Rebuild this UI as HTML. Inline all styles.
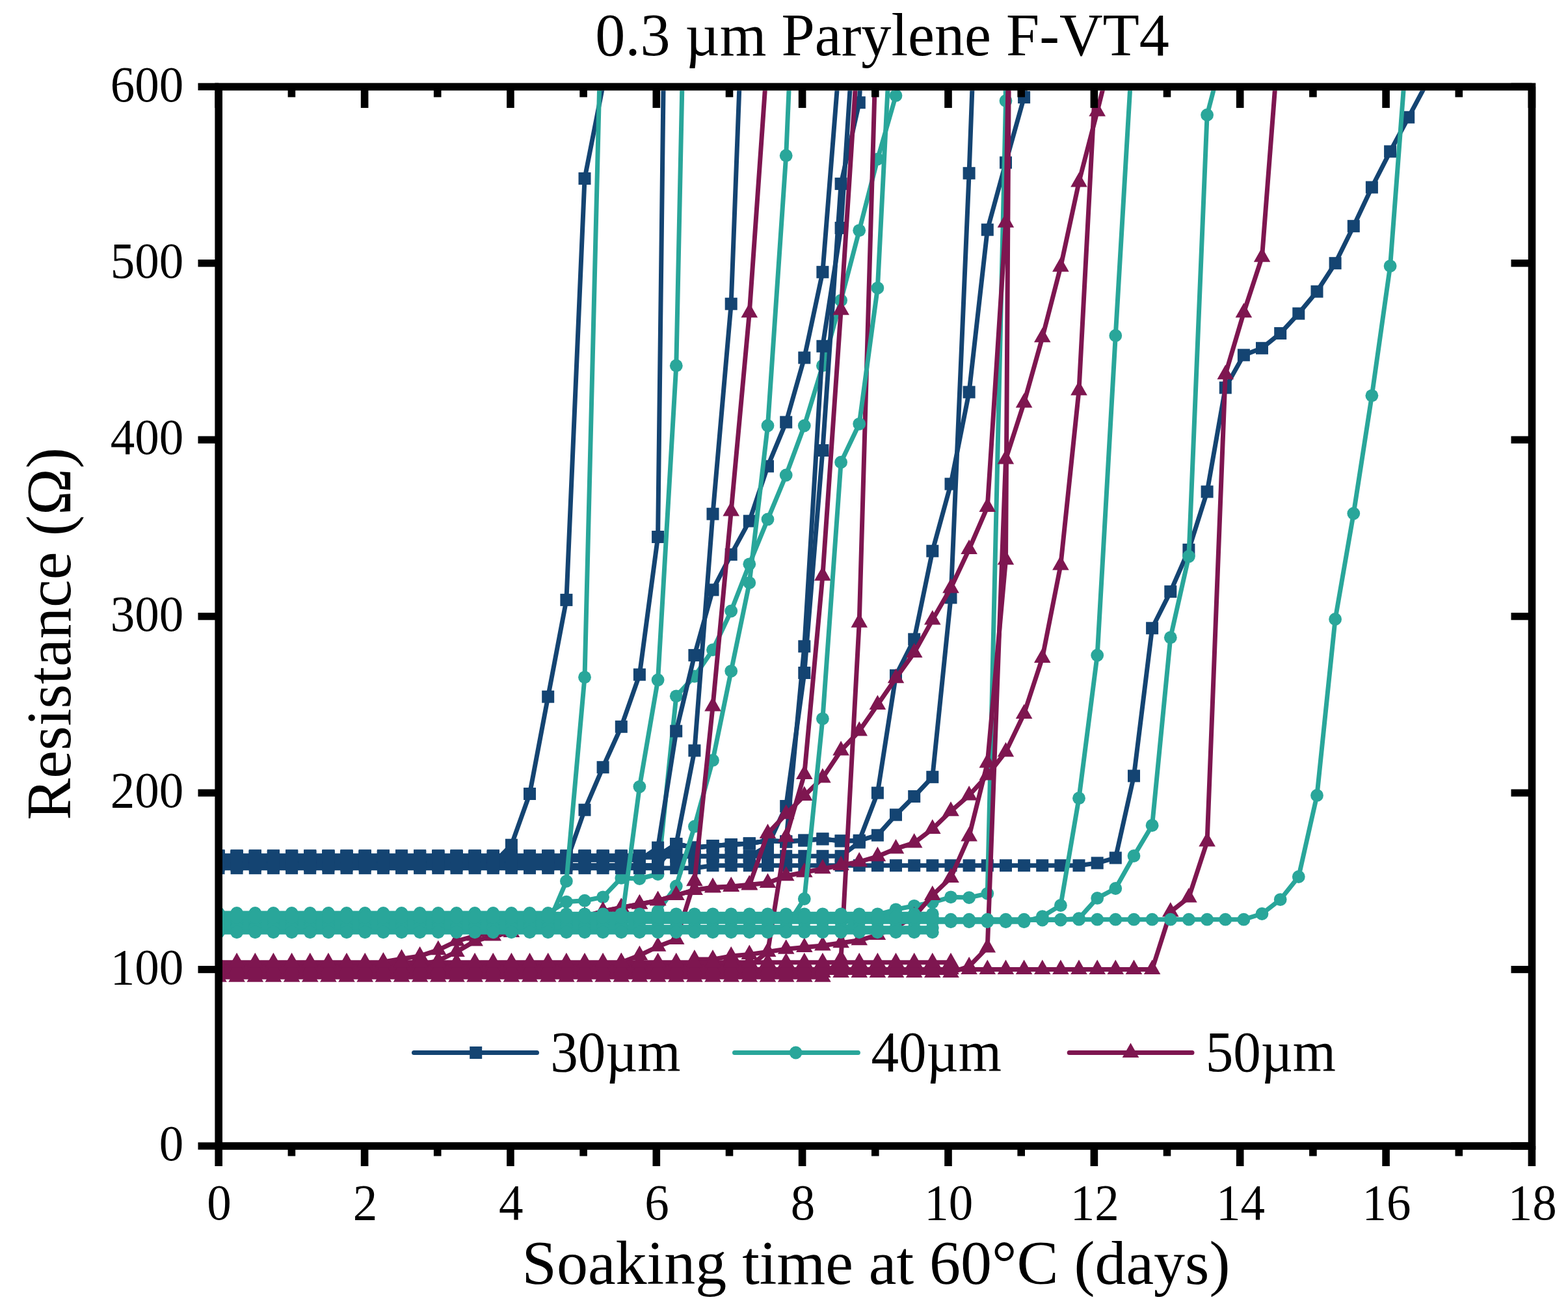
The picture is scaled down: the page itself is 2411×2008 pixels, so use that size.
<!DOCTYPE html>
<html><head><meta charset="utf-8"><title>0.3 µm Parylene F-VT4</title>
<style>
html,body{margin:0;padding:0;background:#fff;}
body{width:2411px;height:2008px;overflow:hidden;}
svg{display:block;}
text{font-family:"Liberation Serif","Times New Roman",serif;fill:#000;}
.tick text{font-size:78.8px;}
.leg{font-size:88.3px;}
</style></head><body>
<svg width="2411" height="2008" viewBox="0 0 2411 2008">
<defs><clipPath id="pc"><rect x="342" y="139.2" width="2007.7" height="1617"/></clipPath></defs>
<rect width="2411" height="2008" fill="#fff"/>
<g clip-path="url(#pc)">
<g fill="#29a69a" stroke="none">
<path d="M336 1404 L364.1 1404 L392.3 1404 L420.4 1404 L448.6 1404 L476.8 1404 L504.9 1404 L533 1404 L561.2 1404 L589.4 1404 L617.5 1404 L645.6 1404 L673.8 1404 L702 1404 L730.1 1404 L758.2 1404 L786.4 1404 L814.5 1404 L842.7 1404 L870.9 1386.6 L899 1384.7 L927.1 1379.3 L955.3 1349.9 L983.4 1351 L1011.6 1344 L1039.8 1070.3 L1067.9 1039.9 L1096 999.2 L1124.2 939.5 L1152.3 867.3 L1180.5 798.4 L1208.7 730.5 L1236.8 654.5 L1264.9 562.2 L1293.1 461.8 L1321.2 354.3 L1349.4 244.6 L1377.5 146.9 L1411 0" fill="none" stroke="#29a69a" stroke-width="7.0" stroke-linejoin="round" stroke-linecap="butt"/>
<circle cx="336" cy="1404" r="9.9"/><circle cx="364.1" cy="1404" r="9.9"/><circle cx="392.3" cy="1404" r="9.9"/><circle cx="420.4" cy="1404" r="9.9"/><circle cx="448.6" cy="1404" r="9.9"/><circle cx="476.8" cy="1404" r="9.9"/><circle cx="504.9" cy="1404" r="9.9"/><circle cx="533" cy="1404" r="9.9"/><circle cx="561.2" cy="1404" r="9.9"/><circle cx="589.4" cy="1404" r="9.9"/><circle cx="617.5" cy="1404" r="9.9"/><circle cx="645.6" cy="1404" r="9.9"/><circle cx="673.8" cy="1404" r="9.9"/><circle cx="702" cy="1404" r="9.9"/><circle cx="730.1" cy="1404" r="9.9"/><circle cx="758.2" cy="1404" r="9.9"/><circle cx="786.4" cy="1404" r="9.9"/><circle cx="814.5" cy="1404" r="9.9"/><circle cx="842.7" cy="1404" r="9.9"/><circle cx="870.9" cy="1386.6" r="9.9"/><circle cx="899" cy="1384.7" r="9.9"/><circle cx="927.1" cy="1379.3" r="9.9"/><circle cx="955.3" cy="1349.9" r="9.9"/><circle cx="983.4" cy="1351" r="9.9"/><circle cx="1011.6" cy="1344" r="9.9"/><circle cx="1039.8" cy="1070.3" r="9.9"/><circle cx="1067.9" cy="1039.9" r="9.9"/><circle cx="1096" cy="999.2" r="9.9"/><circle cx="1124.2" cy="939.5" r="9.9"/><circle cx="1152.3" cy="867.3" r="9.9"/><circle cx="1180.5" cy="798.4" r="9.9"/><circle cx="1208.7" cy="730.5" r="9.9"/><circle cx="1236.8" cy="654.5" r="9.9"/><circle cx="1264.9" cy="562.2" r="9.9"/><circle cx="1293.1" cy="461.8" r="9.9"/><circle cx="1321.2" cy="354.3" r="9.9"/><circle cx="1349.4" cy="244.6" r="9.9"/><circle cx="1377.5" cy="146.9" r="9.9"/>
</g><g fill="#144472" stroke="none">
<path d="M336 1327.7 L364.1 1327.7 L392.3 1327.7 L420.4 1327.7 L448.6 1327.7 L476.8 1327.7 L504.9 1327.7 L533 1327.7 L561.2 1327.7 L589.4 1327.7 L617.5 1327.7 L645.6 1327.7 L673.8 1327.7 L702 1327.7 L730.1 1327.7 L758.2 1327.7 L786.4 1299.2 L814.5 1220.5 L842.7 1071.2 L870.9 922.4 L899 274.5 L953 0" fill="none" stroke="#144472" stroke-width="7.0" stroke-linejoin="round" stroke-linecap="butt"/>
<rect x="326.5" y="1318.2" width="19" height="19"/><rect x="354.6" y="1318.2" width="19" height="19"/><rect x="382.8" y="1318.2" width="19" height="19"/><rect x="410.9" y="1318.2" width="19" height="19"/><rect x="439.1" y="1318.2" width="19" height="19"/><rect x="467.2" y="1318.2" width="19" height="19"/><rect x="495.4" y="1318.2" width="19" height="19"/><rect x="523.5" y="1318.2" width="19" height="19"/><rect x="551.7" y="1318.2" width="19" height="19"/><rect x="579.9" y="1318.2" width="19" height="19"/><rect x="608" y="1318.2" width="19" height="19"/><rect x="636.1" y="1318.2" width="19" height="19"/><rect x="664.3" y="1318.2" width="19" height="19"/><rect x="692.5" y="1318.2" width="19" height="19"/><rect x="720.6" y="1318.2" width="19" height="19"/><rect x="748.8" y="1318.2" width="19" height="19"/><rect x="776.9" y="1289.7" width="19" height="19"/><rect x="805" y="1211" width="19" height="19"/><rect x="833.2" y="1061.7" width="19" height="19"/><rect x="861.4" y="912.9" width="19" height="19"/><rect x="889.5" y="265" width="19" height="19"/>
</g>
<g fill="#144472" stroke="none">
<path d="M336 1325 L364.1 1325 L392.3 1325 L420.4 1325 L448.6 1325 L476.8 1325 L504.9 1325 L533 1325 L561.2 1325 L589.4 1325 L617.5 1325 L645.6 1325 L673.8 1325 L702 1325 L730.1 1325 L758.2 1325 L786.4 1325 L814.5 1325 L842.7 1325 L870.9 1325 L899 1245.2 L927.1 1179.7 L955.3 1117.3 L983.4 1037.2 L1011.6 825.5 L1021.7 0" fill="none" stroke="#144472" stroke-width="7.0" stroke-linejoin="round" stroke-linecap="butt"/>
<rect x="326.5" y="1315.5" width="19" height="19"/><rect x="354.6" y="1315.5" width="19" height="19"/><rect x="382.8" y="1315.5" width="19" height="19"/><rect x="410.9" y="1315.5" width="19" height="19"/><rect x="439.1" y="1315.5" width="19" height="19"/><rect x="467.2" y="1315.5" width="19" height="19"/><rect x="495.4" y="1315.5" width="19" height="19"/><rect x="523.5" y="1315.5" width="19" height="19"/><rect x="551.7" y="1315.5" width="19" height="19"/><rect x="579.9" y="1315.5" width="19" height="19"/><rect x="608" y="1315.5" width="19" height="19"/><rect x="636.1" y="1315.5" width="19" height="19"/><rect x="664.3" y="1315.5" width="19" height="19"/><rect x="692.5" y="1315.5" width="19" height="19"/><rect x="720.6" y="1315.5" width="19" height="19"/><rect x="748.8" y="1315.5" width="19" height="19"/><rect x="776.9" y="1315.5" width="19" height="19"/><rect x="805" y="1315.5" width="19" height="19"/><rect x="833.2" y="1315.5" width="19" height="19"/><rect x="861.4" y="1315.5" width="19" height="19"/><rect x="889.5" y="1235.7" width="19" height="19"/><rect x="917.6" y="1170.2" width="19" height="19"/><rect x="945.8" y="1107.8" width="19" height="19"/><rect x="973.9" y="1027.7" width="19" height="19"/><rect x="1002.1" y="816" width="19" height="19"/>
</g>
<g fill="#144472" stroke="none">
<path d="M336 1322.3 L364.1 1322.3 L392.3 1322.3 L420.4 1322.3 L448.6 1322.3 L476.8 1322.3 L504.9 1322.3 L533 1322.3 L561.2 1322.3 L589.4 1322.3 L617.5 1322.3 L645.6 1322.3 L673.8 1322.3 L702 1322.3 L730.1 1322.3 L758.2 1322.3 L786.4 1322.3 L814.5 1322.3 L842.7 1322.3 L870.9 1322.3 L899 1322.3 L927.1 1322.3 L955.3 1322.3 L983.4 1322.3 L1011.6 1303.2 L1039.8 1124.1 L1067.9 1007.4 L1096 906.9 L1124.2 852.6 L1152.3 801.1 L1180.5 716.9 L1208.7 649.1 L1236.8 550 L1264.9 418.3 L1298 0" fill="none" stroke="#144472" stroke-width="7.0" stroke-linejoin="round" stroke-linecap="butt"/>
<rect x="326.5" y="1312.8" width="19" height="19"/><rect x="354.6" y="1312.8" width="19" height="19"/><rect x="382.8" y="1312.8" width="19" height="19"/><rect x="410.9" y="1312.8" width="19" height="19"/><rect x="439.1" y="1312.8" width="19" height="19"/><rect x="467.2" y="1312.8" width="19" height="19"/><rect x="495.4" y="1312.8" width="19" height="19"/><rect x="523.5" y="1312.8" width="19" height="19"/><rect x="551.7" y="1312.8" width="19" height="19"/><rect x="579.9" y="1312.8" width="19" height="19"/><rect x="608" y="1312.8" width="19" height="19"/><rect x="636.1" y="1312.8" width="19" height="19"/><rect x="664.3" y="1312.8" width="19" height="19"/><rect x="692.5" y="1312.8" width="19" height="19"/><rect x="720.6" y="1312.8" width="19" height="19"/><rect x="748.8" y="1312.8" width="19" height="19"/><rect x="776.9" y="1312.8" width="19" height="19"/><rect x="805" y="1312.8" width="19" height="19"/><rect x="833.2" y="1312.8" width="19" height="19"/><rect x="861.4" y="1312.8" width="19" height="19"/><rect x="889.5" y="1312.8" width="19" height="19"/><rect x="917.6" y="1312.8" width="19" height="19"/><rect x="945.8" y="1312.8" width="19" height="19"/><rect x="973.9" y="1312.8" width="19" height="19"/><rect x="1002.1" y="1293.7" width="19" height="19"/><rect x="1030.2" y="1114.6" width="19" height="19"/><rect x="1058.4" y="997.9" width="19" height="19"/><rect x="1086.5" y="897.4" width="19" height="19"/><rect x="1114.7" y="843.1" width="19" height="19"/><rect x="1142.8" y="791.6" width="19" height="19"/><rect x="1171" y="707.4" width="19" height="19"/><rect x="1199.2" y="639.6" width="19" height="19"/><rect x="1227.3" y="540.5" width="19" height="19"/><rect x="1255.4" y="408.8" width="19" height="19"/>
</g>
<g fill="#144472" stroke="none">
<path d="M336 1330.4 L364.1 1330.4 L392.3 1330.4 L420.4 1330.4 L448.6 1330.4 L476.8 1330.4 L504.9 1330.4 L533 1330.4 L561.2 1330.4 L589.4 1330.4 L617.5 1330.4 L645.6 1330.4 L673.8 1330.4 L702 1330.4 L730.1 1330.4 L758.2 1330.4 L786.4 1330.4 L814.5 1330.4 L842.7 1330.4 L870.9 1330.4 L899 1330.4 L927.1 1330.4 L955.3 1330.4 L983.4 1330.4 L1011.6 1330.4 L1039.8 1297.8 L1067.9 1154 L1096 790.2 L1124.2 467.2 L1142 0" fill="none" stroke="#144472" stroke-width="7.0" stroke-linejoin="round" stroke-linecap="butt"/>
<rect x="326.5" y="1320.9" width="19" height="19"/><rect x="354.6" y="1320.9" width="19" height="19"/><rect x="382.8" y="1320.9" width="19" height="19"/><rect x="410.9" y="1320.9" width="19" height="19"/><rect x="439.1" y="1320.9" width="19" height="19"/><rect x="467.2" y="1320.9" width="19" height="19"/><rect x="495.4" y="1320.9" width="19" height="19"/><rect x="523.5" y="1320.9" width="19" height="19"/><rect x="551.7" y="1320.9" width="19" height="19"/><rect x="579.9" y="1320.9" width="19" height="19"/><rect x="608" y="1320.9" width="19" height="19"/><rect x="636.1" y="1320.9" width="19" height="19"/><rect x="664.3" y="1320.9" width="19" height="19"/><rect x="692.5" y="1320.9" width="19" height="19"/><rect x="720.6" y="1320.9" width="19" height="19"/><rect x="748.8" y="1320.9" width="19" height="19"/><rect x="776.9" y="1320.9" width="19" height="19"/><rect x="805" y="1320.9" width="19" height="19"/><rect x="833.2" y="1320.9" width="19" height="19"/><rect x="861.4" y="1320.9" width="19" height="19"/><rect x="889.5" y="1320.9" width="19" height="19"/><rect x="917.6" y="1320.9" width="19" height="19"/><rect x="945.8" y="1320.9" width="19" height="19"/><rect x="973.9" y="1320.9" width="19" height="19"/><rect x="1002.1" y="1320.9" width="19" height="19"/><rect x="1030.2" y="1288.3" width="19" height="19"/><rect x="1058.4" y="1144.5" width="19" height="19"/><rect x="1086.5" y="780.7" width="19" height="19"/><rect x="1114.7" y="457.7" width="19" height="19"/>
</g>
<g fill="#144472" stroke="none">
<path d="M336 1316.8 L364.1 1316.8 L392.3 1316.8 L420.4 1316.8 L448.6 1316.8 L476.8 1316.8 L504.9 1316.8 L533 1316.8 L561.2 1316.8 L589.4 1316.8 L617.5 1316.8 L645.6 1316.8 L673.8 1316.8 L702 1316.8 L730.1 1316.8 L758.2 1316.8 L786.4 1316.8 L814.5 1316.8 L842.7 1316.8 L870.9 1316.8 L899 1316.8 L927.1 1316.8 L955.3 1316.8 L983.4 1316.8 L1011.6 1316.8 L1039.8 1316.8 L1067.9 1316.8 L1096 1316.8 L1124.2 1316.8 L1152.3 1316.8 L1180.5 1300.5 L1208.7 1239.5 L1236.8 1034.5 L1264.9 692.5 L1293.1 282.6 L1321.2 157.7 L1330 0" fill="none" stroke="#144472" stroke-width="7.0" stroke-linejoin="round" stroke-linecap="butt"/>
<rect x="326.5" y="1307.3" width="19" height="19"/><rect x="354.6" y="1307.3" width="19" height="19"/><rect x="382.8" y="1307.3" width="19" height="19"/><rect x="410.9" y="1307.3" width="19" height="19"/><rect x="439.1" y="1307.3" width="19" height="19"/><rect x="467.2" y="1307.3" width="19" height="19"/><rect x="495.4" y="1307.3" width="19" height="19"/><rect x="523.5" y="1307.3" width="19" height="19"/><rect x="551.7" y="1307.3" width="19" height="19"/><rect x="579.9" y="1307.3" width="19" height="19"/><rect x="608" y="1307.3" width="19" height="19"/><rect x="636.1" y="1307.3" width="19" height="19"/><rect x="664.3" y="1307.3" width="19" height="19"/><rect x="692.5" y="1307.3" width="19" height="19"/><rect x="720.6" y="1307.3" width="19" height="19"/><rect x="748.8" y="1307.3" width="19" height="19"/><rect x="776.9" y="1307.3" width="19" height="19"/><rect x="805" y="1307.3" width="19" height="19"/><rect x="833.2" y="1307.3" width="19" height="19"/><rect x="861.4" y="1307.3" width="19" height="19"/><rect x="889.5" y="1307.3" width="19" height="19"/><rect x="917.6" y="1307.3" width="19" height="19"/><rect x="945.8" y="1307.3" width="19" height="19"/><rect x="973.9" y="1307.3" width="19" height="19"/><rect x="1002.1" y="1307.3" width="19" height="19"/><rect x="1030.2" y="1307.3" width="19" height="19"/><rect x="1058.4" y="1307.3" width="19" height="19"/><rect x="1086.5" y="1307.3" width="19" height="19"/><rect x="1114.7" y="1307.3" width="19" height="19"/><rect x="1142.8" y="1307.3" width="19" height="19"/><rect x="1171" y="1291" width="19" height="19"/><rect x="1199.2" y="1230" width="19" height="19"/><rect x="1227.3" y="1025" width="19" height="19"/><rect x="1255.4" y="683" width="19" height="19"/><rect x="1283.6" y="273.1" width="19" height="19"/><rect x="1311.8" y="148.2" width="19" height="19"/>
</g>
<g fill="#144472" stroke="none">
<path d="M336 1316.3 L364.1 1316.3 L392.3 1316.3 L420.4 1316.3 L448.6 1316.3 L476.8 1316.3 L504.9 1316.3 L533 1316.3 L561.2 1316.3 L589.4 1316.3 L617.5 1316.3 L645.6 1316.3 L673.8 1316.3 L702 1316.3 L730.1 1316.3 L758.2 1316.3 L786.4 1316.3 L814.5 1316.3 L842.7 1316.3 L870.9 1316.3 L899 1316.3 L927.1 1316.3 L955.3 1316.3 L983.4 1316.3 L1011.6 1316.3 L1039.8 1297.8 L1067.9 1303.2 L1096 1300.5 L1124.2 1298.6 L1152.3 1297 L1180.5 1292.4 L1208.7 1294 L1236.8 993.8 L1264.9 532.3 L1293.1 350.5 L1316 0" fill="none" stroke="#144472" stroke-width="7.0" stroke-linejoin="round" stroke-linecap="butt"/>
<rect x="326.5" y="1306.8" width="19" height="19"/><rect x="354.6" y="1306.8" width="19" height="19"/><rect x="382.8" y="1306.8" width="19" height="19"/><rect x="410.9" y="1306.8" width="19" height="19"/><rect x="439.1" y="1306.8" width="19" height="19"/><rect x="467.2" y="1306.8" width="19" height="19"/><rect x="495.4" y="1306.8" width="19" height="19"/><rect x="523.5" y="1306.8" width="19" height="19"/><rect x="551.7" y="1306.8" width="19" height="19"/><rect x="579.9" y="1306.8" width="19" height="19"/><rect x="608" y="1306.8" width="19" height="19"/><rect x="636.1" y="1306.8" width="19" height="19"/><rect x="664.3" y="1306.8" width="19" height="19"/><rect x="692.5" y="1306.8" width="19" height="19"/><rect x="720.6" y="1306.8" width="19" height="19"/><rect x="748.8" y="1306.8" width="19" height="19"/><rect x="776.9" y="1306.8" width="19" height="19"/><rect x="805" y="1306.8" width="19" height="19"/><rect x="833.2" y="1306.8" width="19" height="19"/><rect x="861.4" y="1306.8" width="19" height="19"/><rect x="889.5" y="1306.8" width="19" height="19"/><rect x="917.6" y="1306.8" width="19" height="19"/><rect x="945.8" y="1306.8" width="19" height="19"/><rect x="973.9" y="1306.8" width="19" height="19"/><rect x="1002.1" y="1306.8" width="19" height="19"/><rect x="1030.2" y="1288.3" width="19" height="19"/><rect x="1058.4" y="1293.7" width="19" height="19"/><rect x="1086.5" y="1291" width="19" height="19"/><rect x="1114.7" y="1289.1" width="19" height="19"/><rect x="1142.8" y="1287.5" width="19" height="19"/><rect x="1171" y="1282.9" width="19" height="19"/><rect x="1199.2" y="1284.5" width="19" height="19"/><rect x="1227.3" y="984.3" width="19" height="19"/><rect x="1255.4" y="522.8" width="19" height="19"/><rect x="1283.6" y="341" width="19" height="19"/>
</g>
<g fill="#144472" stroke="none">
<path d="M336 1315.7 L364.1 1315.7 L392.3 1315.7 L420.4 1315.7 L448.6 1315.7 L476.8 1315.7 L504.9 1315.7 L533 1315.7 L561.2 1315.7 L589.4 1315.7 L617.5 1315.7 L645.6 1315.7 L673.8 1315.7 L702 1315.7 L730.1 1315.7 L758.2 1315.7 L786.4 1315.7 L814.5 1315.7 L842.7 1315.7 L870.9 1315.7 L899 1315.7 L927.1 1315.7 L955.3 1315.7 L983.4 1315.7 L1011.6 1315.7 L1039.8 1297.8 L1067.9 1303.2 L1096 1300.5 L1124.2 1298.6 L1152.3 1297 L1180.5 1292.4 L1208.7 1294 L1236.8 1292.1 L1264.9 1289.9 L1293.1 1292.9 L1321.2 1292.4 L1349.4 1219.1 L1377.5 1038.6 L1405.7 982.9 L1433.8 847.2 L1462 744.1 L1490.1 602.9 L1518.3 353.2 L1546.5 250 L1574.6 149.6 L1600 0" fill="none" stroke="#144472" stroke-width="7.0" stroke-linejoin="round" stroke-linecap="butt"/>
<rect x="326.5" y="1306.2" width="19" height="19"/><rect x="354.6" y="1306.2" width="19" height="19"/><rect x="382.8" y="1306.2" width="19" height="19"/><rect x="410.9" y="1306.2" width="19" height="19"/><rect x="439.1" y="1306.2" width="19" height="19"/><rect x="467.2" y="1306.2" width="19" height="19"/><rect x="495.4" y="1306.2" width="19" height="19"/><rect x="523.5" y="1306.2" width="19" height="19"/><rect x="551.7" y="1306.2" width="19" height="19"/><rect x="579.9" y="1306.2" width="19" height="19"/><rect x="608" y="1306.2" width="19" height="19"/><rect x="636.1" y="1306.2" width="19" height="19"/><rect x="664.3" y="1306.2" width="19" height="19"/><rect x="692.5" y="1306.2" width="19" height="19"/><rect x="720.6" y="1306.2" width="19" height="19"/><rect x="748.8" y="1306.2" width="19" height="19"/><rect x="776.9" y="1306.2" width="19" height="19"/><rect x="805" y="1306.2" width="19" height="19"/><rect x="833.2" y="1306.2" width="19" height="19"/><rect x="861.4" y="1306.2" width="19" height="19"/><rect x="889.5" y="1306.2" width="19" height="19"/><rect x="917.6" y="1306.2" width="19" height="19"/><rect x="945.8" y="1306.2" width="19" height="19"/><rect x="973.9" y="1306.2" width="19" height="19"/><rect x="1002.1" y="1306.2" width="19" height="19"/><rect x="1030.2" y="1288.3" width="19" height="19"/><rect x="1058.4" y="1293.7" width="19" height="19"/><rect x="1086.5" y="1291" width="19" height="19"/><rect x="1114.7" y="1289.1" width="19" height="19"/><rect x="1142.8" y="1287.5" width="19" height="19"/><rect x="1171" y="1282.9" width="19" height="19"/><rect x="1199.2" y="1284.5" width="19" height="19"/><rect x="1227.3" y="1282.6" width="19" height="19"/><rect x="1255.4" y="1280.4" width="19" height="19"/><rect x="1283.6" y="1283.4" width="19" height="19"/><rect x="1311.8" y="1282.9" width="19" height="19"/><rect x="1339.9" y="1209.6" width="19" height="19"/><rect x="1368" y="1029.1" width="19" height="19"/><rect x="1396.2" y="973.4" width="19" height="19"/><rect x="1424.3" y="837.7" width="19" height="19"/><rect x="1452.5" y="734.6" width="19" height="19"/><rect x="1480.6" y="593.4" width="19" height="19"/><rect x="1508.8" y="343.7" width="19" height="19"/><rect x="1537" y="240.5" width="19" height="19"/><rect x="1565.1" y="140.1" width="19" height="19"/>
</g>
<g fill="#144472" stroke="none">
<path d="M336 1318.2 L364.1 1318.2 L392.3 1318.2 L420.4 1318.2 L448.6 1318.2 L476.8 1318.2 L504.9 1318.2 L533 1318.2 L561.2 1318.2 L589.4 1318.2 L617.5 1318.2 L645.6 1318.2 L673.8 1318.2 L702 1318.2 L730.1 1318.2 L758.2 1318.2 L786.4 1318.2 L814.5 1318.2 L842.7 1318.2 L870.9 1318.2 L899 1318.2 L927.1 1318.2 L955.3 1318.2 L983.4 1318.2 L1011.6 1318.2 L1039.8 1297.8 L1067.9 1303.2 L1096 1300.5 L1124.2 1298.6 L1152.3 1297 L1180.5 1292.4 L1208.7 1294 L1236.8 1292.1 L1264.9 1289.9 L1293.1 1292.9 L1321.2 1292.4 L1349.4 1284.2 L1377.5 1252.8 L1405.7 1224.5 L1433.8 1194.7 L1462 918.9 L1490.1 266.3 L1500 0" fill="none" stroke="#144472" stroke-width="7.0" stroke-linejoin="round" stroke-linecap="butt"/>
<rect x="326.5" y="1308.7" width="19" height="19"/><rect x="354.6" y="1308.7" width="19" height="19"/><rect x="382.8" y="1308.7" width="19" height="19"/><rect x="410.9" y="1308.7" width="19" height="19"/><rect x="439.1" y="1308.7" width="19" height="19"/><rect x="467.2" y="1308.7" width="19" height="19"/><rect x="495.4" y="1308.7" width="19" height="19"/><rect x="523.5" y="1308.7" width="19" height="19"/><rect x="551.7" y="1308.7" width="19" height="19"/><rect x="579.9" y="1308.7" width="19" height="19"/><rect x="608" y="1308.7" width="19" height="19"/><rect x="636.1" y="1308.7" width="19" height="19"/><rect x="664.3" y="1308.7" width="19" height="19"/><rect x="692.5" y="1308.7" width="19" height="19"/><rect x="720.6" y="1308.7" width="19" height="19"/><rect x="748.8" y="1308.7" width="19" height="19"/><rect x="776.9" y="1308.7" width="19" height="19"/><rect x="805" y="1308.7" width="19" height="19"/><rect x="833.2" y="1308.7" width="19" height="19"/><rect x="861.4" y="1308.7" width="19" height="19"/><rect x="889.5" y="1308.7" width="19" height="19"/><rect x="917.6" y="1308.7" width="19" height="19"/><rect x="945.8" y="1308.7" width="19" height="19"/><rect x="973.9" y="1308.7" width="19" height="19"/><rect x="1002.1" y="1308.7" width="19" height="19"/><rect x="1030.2" y="1288.3" width="19" height="19"/><rect x="1058.4" y="1293.7" width="19" height="19"/><rect x="1086.5" y="1291" width="19" height="19"/><rect x="1114.7" y="1289.1" width="19" height="19"/><rect x="1142.8" y="1287.5" width="19" height="19"/><rect x="1171" y="1282.9" width="19" height="19"/><rect x="1199.2" y="1284.5" width="19" height="19"/><rect x="1227.3" y="1282.6" width="19" height="19"/><rect x="1255.4" y="1280.4" width="19" height="19"/><rect x="1283.6" y="1283.4" width="19" height="19"/><rect x="1311.8" y="1282.9" width="19" height="19"/><rect x="1339.9" y="1274.7" width="19" height="19"/><rect x="1368" y="1243.3" width="19" height="19"/><rect x="1396.2" y="1215" width="19" height="19"/><rect x="1424.3" y="1185.2" width="19" height="19"/><rect x="1452.5" y="909.4" width="19" height="19"/><rect x="1480.6" y="256.8" width="19" height="19"/>
</g>
<g fill="#144472" stroke="none">
<path d="M336 1316.3 L364.1 1316.3 L392.3 1316.3 L420.4 1316.3 L448.6 1316.3 L476.8 1316.3 L504.9 1316.3 L533 1316.3 L561.2 1316.3 L589.4 1316.3 L617.5 1316.3 L645.6 1316.3 L673.8 1316.3 L702 1316.3 L730.1 1316.3 L758.2 1316.3 L786.4 1316.3 L814.5 1316.3 L842.7 1316.3 L870.9 1316.3 L899 1316.3 L927.1 1316.3 L955.3 1316.3 L983.4 1316.3 L1011.6 1316.3 L1039.8 1316.3 L1067.9 1316.3 L1096 1316.3 L1124.2 1316.3 L1152.3 1316.3 L1180.5 1316.3 L1208.7 1316.3 L1236.8 1316.3 L1264.9 1316.3 L1293.1 1316.3 L1321.2 1295.1" fill="none" stroke="#144472" stroke-width="7.0" stroke-linejoin="round" stroke-linecap="butt"/>
<rect x="326.5" y="1306.8" width="19" height="19"/><rect x="354.6" y="1306.8" width="19" height="19"/><rect x="382.8" y="1306.8" width="19" height="19"/><rect x="410.9" y="1306.8" width="19" height="19"/><rect x="439.1" y="1306.8" width="19" height="19"/><rect x="467.2" y="1306.8" width="19" height="19"/><rect x="495.4" y="1306.8" width="19" height="19"/><rect x="523.5" y="1306.8" width="19" height="19"/><rect x="551.7" y="1306.8" width="19" height="19"/><rect x="579.9" y="1306.8" width="19" height="19"/><rect x="608" y="1306.8" width="19" height="19"/><rect x="636.1" y="1306.8" width="19" height="19"/><rect x="664.3" y="1306.8" width="19" height="19"/><rect x="692.5" y="1306.8" width="19" height="19"/><rect x="720.6" y="1306.8" width="19" height="19"/><rect x="748.8" y="1306.8" width="19" height="19"/><rect x="776.9" y="1306.8" width="19" height="19"/><rect x="805" y="1306.8" width="19" height="19"/><rect x="833.2" y="1306.8" width="19" height="19"/><rect x="861.4" y="1306.8" width="19" height="19"/><rect x="889.5" y="1306.8" width="19" height="19"/><rect x="917.6" y="1306.8" width="19" height="19"/><rect x="945.8" y="1306.8" width="19" height="19"/><rect x="973.9" y="1306.8" width="19" height="19"/><rect x="1002.1" y="1306.8" width="19" height="19"/><rect x="1030.2" y="1306.8" width="19" height="19"/><rect x="1058.4" y="1306.8" width="19" height="19"/><rect x="1086.5" y="1306.8" width="19" height="19"/><rect x="1114.7" y="1306.8" width="19" height="19"/><rect x="1142.8" y="1306.8" width="19" height="19"/><rect x="1171" y="1306.8" width="19" height="19"/><rect x="1199.2" y="1306.8" width="19" height="19"/><rect x="1227.3" y="1306.8" width="19" height="19"/><rect x="1255.4" y="1306.8" width="19" height="19"/><rect x="1283.6" y="1306.8" width="19" height="19"/><rect x="1311.8" y="1285.6" width="19" height="19"/>
</g>
<g fill="#144472" stroke="none">
<path d="M336 1334.7 L364.1 1334.7 L392.3 1334.7 L420.4 1334.7 L448.6 1334.7 L476.8 1334.7 L504.9 1334.7 L533 1334.7 L561.2 1334.7 L589.4 1334.7 L617.5 1334.7 L645.6 1334.7 L673.8 1334.7 L702 1334.7 L730.1 1334.7 L758.2 1334.7 L786.4 1334.7 L814.5 1334.7 L842.7 1334.7 L870.9 1334.7 L899 1334.7 L927.1 1334.7 L955.3 1334.7 L983.4 1334.7 L1011.6 1334.7 L1039.8 1334.7 L1067.9 1334.7 L1096 1330.7 L1124.2 1330.7 L1152.3 1330.7 L1180.5 1330.7 L1208.7 1330.7 L1236.8 1330.7 L1264.9 1330.7 L1293.1 1330.7 L1321.2 1330.7 L1349.4 1330.7 L1377.5 1330.7 L1405.7 1330.7 L1433.8 1330.7 L1462 1330.7 L1490.1 1330.7 L1518.3 1330.7 L1546.5 1330.7 L1574.6 1330.7 L1602.8 1330.7 L1630.9 1330.7 L1659 1330.7 L1687.2 1326.9 L1715.3 1319 L1743.5 1193 L1771.6 965.8 L1799.8 909.6 L1827.9 845.3 L1856.1 756 L1884.2 596.1 L1912.4 545.9 L1940.5 535.3 L1968.7 512.5 L1996.8 482.1 L2025 448.2 L2053.1 404.8 L2081.3 347.7 L2109.4 288 L2137.6 232.9 L2165.8 180.3 L2262 0" fill="none" stroke="#144472" stroke-width="7.0" stroke-linejoin="round" stroke-linecap="butt"/>
<rect x="326.5" y="1325.2" width="19" height="19"/><rect x="354.6" y="1325.2" width="19" height="19"/><rect x="382.8" y="1325.2" width="19" height="19"/><rect x="410.9" y="1325.2" width="19" height="19"/><rect x="439.1" y="1325.2" width="19" height="19"/><rect x="467.2" y="1325.2" width="19" height="19"/><rect x="495.4" y="1325.2" width="19" height="19"/><rect x="523.5" y="1325.2" width="19" height="19"/><rect x="551.7" y="1325.2" width="19" height="19"/><rect x="579.9" y="1325.2" width="19" height="19"/><rect x="608" y="1325.2" width="19" height="19"/><rect x="636.1" y="1325.2" width="19" height="19"/><rect x="664.3" y="1325.2" width="19" height="19"/><rect x="692.5" y="1325.2" width="19" height="19"/><rect x="720.6" y="1325.2" width="19" height="19"/><rect x="748.8" y="1325.2" width="19" height="19"/><rect x="776.9" y="1325.2" width="19" height="19"/><rect x="805" y="1325.2" width="19" height="19"/><rect x="833.2" y="1325.2" width="19" height="19"/><rect x="861.4" y="1325.2" width="19" height="19"/><rect x="889.5" y="1325.2" width="19" height="19"/><rect x="917.6" y="1325.2" width="19" height="19"/><rect x="945.8" y="1325.2" width="19" height="19"/><rect x="973.9" y="1325.2" width="19" height="19"/><rect x="1002.1" y="1325.2" width="19" height="19"/><rect x="1030.2" y="1325.2" width="19" height="19"/><rect x="1058.4" y="1325.2" width="19" height="19"/><rect x="1086.5" y="1321.2" width="19" height="19"/><rect x="1114.7" y="1321.2" width="19" height="19"/><rect x="1142.8" y="1321.2" width="19" height="19"/><rect x="1171" y="1321.2" width="19" height="19"/><rect x="1199.2" y="1321.2" width="19" height="19"/><rect x="1227.3" y="1321.2" width="19" height="19"/><rect x="1255.4" y="1321.2" width="19" height="19"/><rect x="1283.6" y="1321.2" width="19" height="19"/><rect x="1311.8" y="1321.2" width="19" height="19"/><rect x="1339.9" y="1321.2" width="19" height="19"/><rect x="1368" y="1321.2" width="19" height="19"/><rect x="1396.2" y="1321.2" width="19" height="19"/><rect x="1424.3" y="1321.2" width="19" height="19"/><rect x="1452.5" y="1321.2" width="19" height="19"/><rect x="1480.6" y="1321.2" width="19" height="19"/><rect x="1508.8" y="1321.2" width="19" height="19"/><rect x="1537" y="1321.2" width="19" height="19"/><rect x="1565.1" y="1321.2" width="19" height="19"/><rect x="1593.2" y="1321.2" width="19" height="19"/><rect x="1621.4" y="1321.2" width="19" height="19"/><rect x="1649.5" y="1321.2" width="19" height="19"/><rect x="1677.7" y="1317.4" width="19" height="19"/><rect x="1705.8" y="1309.5" width="19" height="19"/><rect x="1734" y="1183.5" width="19" height="19"/><rect x="1762.1" y="956.3" width="19" height="19"/><rect x="1790.3" y="900.1" width="19" height="19"/><rect x="1818.4" y="835.8" width="19" height="19"/><rect x="1846.6" y="746.5" width="19" height="19"/><rect x="1874.8" y="586.6" width="19" height="19"/><rect x="1902.9" y="536.4" width="19" height="19"/><rect x="1931" y="525.8" width="19" height="19"/><rect x="1959.2" y="503" width="19" height="19"/><rect x="1987.3" y="472.6" width="19" height="19"/><rect x="2015.5" y="438.7" width="19" height="19"/><rect x="2043.6" y="395.2" width="19" height="19"/><rect x="2071.8" y="338.2" width="19" height="19"/><rect x="2099.9" y="278.5" width="19" height="19"/><rect x="2128.1" y="223.4" width="19" height="19"/><rect x="2156.2" y="170.8" width="19" height="19"/>
</g>
<g fill="#29a69a" stroke="none">
<path d="M336 1428.1 L364.1 1428.1 L392.3 1428.1 L420.4 1428.1 L448.6 1428.1 L476.8 1428.1 L504.9 1428.1 L533 1428.1 L561.2 1428.1 L589.4 1428.1 L617.5 1428.1 L645.6 1428.1 L673.8 1428.1 L702 1428.1 L730.1 1428.1 L758.2 1428.1 L786.4 1428.1 L814.5 1428.1 L842.7 1428.1 L870.9 1428.1 L899 1428.1 L927.1 1428.1 L955.3 1428.1 L983.4 1417.3 L1011.6 1401 L1039.8 1362.4 L1067.9 1270.7 L1096 1168.9 L1124.2 1031.8 L1152.3 896.1 L1180.5 654.5 L1208.7 239.2 L1219 0" fill="none" stroke="#29a69a" stroke-width="7.0" stroke-linejoin="round" stroke-linecap="butt"/>
<circle cx="336" cy="1428.1" r="9.9"/><circle cx="364.1" cy="1428.1" r="9.9"/><circle cx="392.3" cy="1428.1" r="9.9"/><circle cx="420.4" cy="1428.1" r="9.9"/><circle cx="448.6" cy="1428.1" r="9.9"/><circle cx="476.8" cy="1428.1" r="9.9"/><circle cx="504.9" cy="1428.1" r="9.9"/><circle cx="533" cy="1428.1" r="9.9"/><circle cx="561.2" cy="1428.1" r="9.9"/><circle cx="589.4" cy="1428.1" r="9.9"/><circle cx="617.5" cy="1428.1" r="9.9"/><circle cx="645.6" cy="1428.1" r="9.9"/><circle cx="673.8" cy="1428.1" r="9.9"/><circle cx="702" cy="1428.1" r="9.9"/><circle cx="730.1" cy="1428.1" r="9.9"/><circle cx="758.2" cy="1428.1" r="9.9"/><circle cx="786.4" cy="1428.1" r="9.9"/><circle cx="814.5" cy="1428.1" r="9.9"/><circle cx="842.7" cy="1428.1" r="9.9"/><circle cx="870.9" cy="1428.1" r="9.9"/><circle cx="899" cy="1428.1" r="9.9"/><circle cx="927.1" cy="1428.1" r="9.9"/><circle cx="955.3" cy="1428.1" r="9.9"/><circle cx="983.4" cy="1417.3" r="9.9"/><circle cx="1011.6" cy="1401" r="9.9"/><circle cx="1039.8" cy="1362.4" r="9.9"/><circle cx="1067.9" cy="1270.7" r="9.9"/><circle cx="1096" cy="1168.9" r="9.9"/><circle cx="1124.2" cy="1031.8" r="9.9"/><circle cx="1152.3" cy="896.1" r="9.9"/><circle cx="1180.5" cy="654.5" r="9.9"/><circle cx="1208.7" cy="239.2" r="9.9"/>
</g>
<g fill="#29a69a" stroke="none">
<path d="M336 1430.8 L364.1 1430.8 L392.3 1430.8 L420.4 1430.8 L448.6 1430.8 L476.8 1430.8 L504.9 1430.8 L533 1430.8 L561.2 1430.8 L589.4 1430.8 L617.5 1430.8 L645.6 1430.8 L673.8 1430.8 L702 1430.8 L730.1 1430.8 L758.2 1430.8 L786.4 1430.8 L814.5 1430.8 L842.7 1430.8 L870.9 1430.8 L899 1430.8 L927.1 1430.8 L955.3 1430.8 L983.4 1430.8 L1011.6 1430.8 L1039.8 1430.8 L1067.9 1430.8 L1096 1430.8 L1124.2 1430.8 L1152.3 1430.8 L1180.5 1430.8 L1208.7 1430.8 L1236.8 1430.8 L1264.9 1430.8 L1293.1 1430.8 L1321.2 1414.5 L1349.4 1406.4 L1377.5 1398.3 L1405.7 1392.8 L1433.8 1387.4 L1462 1379.3 L1490.1 1380.1 L1518.3 1373.8 L1546.5 155 L1543 0" fill="none" stroke="#29a69a" stroke-width="7.0" stroke-linejoin="round" stroke-linecap="butt"/>
<circle cx="336" cy="1430.8" r="9.9"/><circle cx="364.1" cy="1430.8" r="9.9"/><circle cx="392.3" cy="1430.8" r="9.9"/><circle cx="420.4" cy="1430.8" r="9.9"/><circle cx="448.6" cy="1430.8" r="9.9"/><circle cx="476.8" cy="1430.8" r="9.9"/><circle cx="504.9" cy="1430.8" r="9.9"/><circle cx="533" cy="1430.8" r="9.9"/><circle cx="561.2" cy="1430.8" r="9.9"/><circle cx="589.4" cy="1430.8" r="9.9"/><circle cx="617.5" cy="1430.8" r="9.9"/><circle cx="645.6" cy="1430.8" r="9.9"/><circle cx="673.8" cy="1430.8" r="9.9"/><circle cx="702" cy="1430.8" r="9.9"/><circle cx="730.1" cy="1430.8" r="9.9"/><circle cx="758.2" cy="1430.8" r="9.9"/><circle cx="786.4" cy="1430.8" r="9.9"/><circle cx="814.5" cy="1430.8" r="9.9"/><circle cx="842.7" cy="1430.8" r="9.9"/><circle cx="870.9" cy="1430.8" r="9.9"/><circle cx="899" cy="1430.8" r="9.9"/><circle cx="927.1" cy="1430.8" r="9.9"/><circle cx="955.3" cy="1430.8" r="9.9"/><circle cx="983.4" cy="1430.8" r="9.9"/><circle cx="1011.6" cy="1430.8" r="9.9"/><circle cx="1039.8" cy="1430.8" r="9.9"/><circle cx="1067.9" cy="1430.8" r="9.9"/><circle cx="1096" cy="1430.8" r="9.9"/><circle cx="1124.2" cy="1430.8" r="9.9"/><circle cx="1152.3" cy="1430.8" r="9.9"/><circle cx="1180.5" cy="1430.8" r="9.9"/><circle cx="1208.7" cy="1430.8" r="9.9"/><circle cx="1236.8" cy="1430.8" r="9.9"/><circle cx="1264.9" cy="1430.8" r="9.9"/><circle cx="1293.1" cy="1430.8" r="9.9"/><circle cx="1321.2" cy="1414.5" r="9.9"/><circle cx="1349.4" cy="1406.4" r="9.9"/><circle cx="1377.5" cy="1398.3" r="9.9"/><circle cx="1405.7" cy="1392.8" r="9.9"/><circle cx="1433.8" cy="1387.4" r="9.9"/><circle cx="1462" cy="1379.3" r="9.9"/><circle cx="1490.1" cy="1380.1" r="9.9"/><circle cx="1518.3" cy="1373.8" r="9.9"/><circle cx="1546.5" cy="155" r="9.9"/>
</g><g fill="#7e1650" stroke="none">
<path d="M336 1493.3 L364.1 1493.3 L392.3 1493.3 L420.4 1493.3 L448.6 1493.3 L476.8 1493.3 L504.9 1493.3 L533 1493.3 L561.2 1493.3 L589.4 1493.3 L617.5 1493.3 L645.6 1493.3 L673.8 1493.3 L702 1493.3 L730.1 1493.3 L758.2 1493.3 L786.4 1493.3 L814.5 1493.3 L842.7 1493.3 L870.9 1493.3 L899 1493.3 L927.1 1493.3 L955.3 1479.7 L983.4 1468.8 L1011.6 1455.3 L1039.8 1444.4 L1067.9 1354.8 L1096 1086.1 L1124.2 786.1 L1152.3 480.8 L1186 0" fill="none" stroke="#7e1650" stroke-width="7.0" stroke-linejoin="round" stroke-linecap="butt"/>
<path d="M336 1478.3 L348.8 1500.8 L323.2 1500.8 Z"/><path d="M364.1 1478.3 L376.9 1500.8 L351.3 1500.8 Z"/><path d="M392.3 1478.3 L405.1 1500.8 L379.5 1500.8 Z"/><path d="M420.4 1478.3 L433.2 1500.8 L407.6 1500.8 Z"/><path d="M448.6 1478.3 L461.4 1500.8 L435.8 1500.8 Z"/><path d="M476.8 1478.3 L489.6 1500.8 L463.9 1500.8 Z"/><path d="M504.9 1478.3 L517.7 1500.8 L492.1 1500.8 Z"/><path d="M533 1478.3 L545.8 1500.8 L520.2 1500.8 Z"/><path d="M561.2 1478.3 L574 1500.8 L548.4 1500.8 Z"/><path d="M589.4 1478.3 L602.1 1500.8 L576.6 1500.8 Z"/><path d="M617.5 1478.3 L630.3 1500.8 L604.7 1500.8 Z"/><path d="M645.6 1478.3 L658.4 1500.8 L632.9 1500.8 Z"/><path d="M673.8 1478.3 L686.6 1500.8 L661 1500.8 Z"/><path d="M702 1478.3 L714.8 1500.8 L689.2 1500.8 Z"/><path d="M730.1 1478.3 L742.9 1500.8 L717.3 1500.8 Z"/><path d="M758.2 1478.3 L771 1500.8 L745.5 1500.8 Z"/><path d="M786.4 1478.3 L799.2 1500.8 L773.6 1500.8 Z"/><path d="M814.5 1478.3 L827.3 1500.8 L801.8 1500.8 Z"/><path d="M842.7 1478.3 L855.5 1500.8 L829.9 1500.8 Z"/><path d="M870.9 1478.3 L883.6 1500.8 L858.1 1500.8 Z"/><path d="M899 1478.3 L911.8 1500.8 L886.2 1500.8 Z"/><path d="M927.1 1478.3 L939.9 1500.8 L914.4 1500.8 Z"/><path d="M955.3 1464.7 L968.1 1487.2 L942.5 1487.2 Z"/><path d="M983.4 1453.8 L996.2 1476.3 L970.6 1476.3 Z"/><path d="M1011.6 1440.3 L1024.4 1462.8 L998.8 1462.8 Z"/><path d="M1039.8 1429.4 L1052.5 1451.9 L1027 1451.9 Z"/><path d="M1067.9 1339.8 L1080.7 1362.3 L1055.1 1362.3 Z"/><path d="M1096 1071.1 L1108.8 1093.6 L1083.2 1093.6 Z"/><path d="M1124.2 771.1 L1137 793.6 L1111.4 793.6 Z"/><path d="M1152.3 465.8 L1165.1 488.3 L1139.5 488.3 Z"/>
</g>
<g fill="#7e1650" stroke="none">
<path d="M336 1485.7 L364.1 1485.7 L392.3 1485.7 L420.4 1485.7 L448.6 1485.7 L476.8 1485.7 L504.9 1485.7 L533 1485.7 L561.2 1485.7 L589.4 1485.7 L617.5 1485.7 L645.6 1485.7 L673.8 1485.7 L702 1485.7 L730.1 1485.7 L758.2 1485.7 L786.4 1485.7 L814.5 1485.7 L842.7 1485.7 L870.9 1485.7 L899 1485.7 L927.1 1485.7 L955.3 1485.7 L983.4 1485.7 L1011.6 1485.7 L1039.8 1485.7 L1067.9 1485.7 L1096 1485.7 L1124.2 1485.7 L1152.3 1485.7 L1180.5 1463.4 L1208.7 1287 L1236.8 1190.6 L1264.9 885.2 L1293.1 476.7 L1324 0" fill="none" stroke="#7e1650" stroke-width="7.0" stroke-linejoin="round" stroke-linecap="butt"/>
<path d="M336 1470.7 L348.8 1493.2 L323.2 1493.2 Z"/><path d="M364.1 1470.7 L376.9 1493.2 L351.3 1493.2 Z"/><path d="M392.3 1470.7 L405.1 1493.2 L379.5 1493.2 Z"/><path d="M420.4 1470.7 L433.2 1493.2 L407.6 1493.2 Z"/><path d="M448.6 1470.7 L461.4 1493.2 L435.8 1493.2 Z"/><path d="M476.8 1470.7 L489.6 1493.2 L463.9 1493.2 Z"/><path d="M504.9 1470.7 L517.7 1493.2 L492.1 1493.2 Z"/><path d="M533 1470.7 L545.8 1493.2 L520.2 1493.2 Z"/><path d="M561.2 1470.7 L574 1493.2 L548.4 1493.2 Z"/><path d="M589.4 1470.7 L602.1 1493.2 L576.6 1493.2 Z"/><path d="M617.5 1470.7 L630.3 1493.2 L604.7 1493.2 Z"/><path d="M645.6 1470.7 L658.4 1493.2 L632.9 1493.2 Z"/><path d="M673.8 1470.7 L686.6 1493.2 L661 1493.2 Z"/><path d="M702 1470.7 L714.8 1493.2 L689.2 1493.2 Z"/><path d="M730.1 1470.7 L742.9 1493.2 L717.3 1493.2 Z"/><path d="M758.2 1470.7 L771 1493.2 L745.5 1493.2 Z"/><path d="M786.4 1470.7 L799.2 1493.2 L773.6 1493.2 Z"/><path d="M814.5 1470.7 L827.3 1493.2 L801.8 1493.2 Z"/><path d="M842.7 1470.7 L855.5 1493.2 L829.9 1493.2 Z"/><path d="M870.9 1470.7 L883.6 1493.2 L858.1 1493.2 Z"/><path d="M899 1470.7 L911.8 1493.2 L886.2 1493.2 Z"/><path d="M927.1 1470.7 L939.9 1493.2 L914.4 1493.2 Z"/><path d="M955.3 1470.7 L968.1 1493.2 L942.5 1493.2 Z"/><path d="M983.4 1470.7 L996.2 1493.2 L970.6 1493.2 Z"/><path d="M1011.6 1470.7 L1024.4 1493.2 L998.8 1493.2 Z"/><path d="M1039.8 1470.7 L1052.5 1493.2 L1027 1493.2 Z"/><path d="M1067.9 1470.7 L1080.7 1493.2 L1055.1 1493.2 Z"/><path d="M1096 1470.7 L1108.8 1493.2 L1083.2 1493.2 Z"/><path d="M1124.2 1470.7 L1137 1493.2 L1111.4 1493.2 Z"/><path d="M1152.3 1470.7 L1165.1 1493.2 L1139.5 1493.2 Z"/><path d="M1180.5 1448.4 L1193.3 1470.9 L1167.7 1470.9 Z"/><path d="M1208.7 1272 L1221.5 1294.5 L1195.9 1294.5 Z"/><path d="M1236.8 1175.6 L1249.6 1198.1 L1224 1198.1 Z"/><path d="M1264.9 870.2 L1277.7 892.7 L1252.1 892.7 Z"/><path d="M1293.1 461.7 L1305.9 484.2 L1280.3 484.2 Z"/>
</g>
<g fill="#7e1650" stroke="none">
<path d="M336 1502.2 L364.1 1502.2 L392.3 1502.2 L420.4 1502.2 L448.6 1502.2 L476.8 1502.2 L504.9 1502.2 L533 1502.2 L561.2 1502.2 L589.4 1502.2 L617.5 1502.2 L645.6 1502.2 L673.8 1502.2 L702 1502.2 L730.1 1502.2 L758.2 1502.2 L786.4 1502.2 L814.5 1502.2 L842.7 1502.2 L870.9 1502.2 L899 1502.2 L927.1 1502.2 L955.3 1502.2 L983.4 1502.2 L1011.6 1502.2 L1039.8 1502.2 L1067.9 1502.2 L1096 1502.2 L1124.2 1502.2 L1152.3 1502.2 L1180.5 1502.2 L1208.7 1502.2 L1236.8 1502.2 L1264.9 1502.2 L1293.1 1474.3 L1321.2 957.2 L1349 0" fill="none" stroke="#7e1650" stroke-width="7.0" stroke-linejoin="round" stroke-linecap="butt"/>
<path d="M336 1487.2 L348.8 1509.7 L323.2 1509.7 Z"/><path d="M364.1 1487.2 L376.9 1509.7 L351.3 1509.7 Z"/><path d="M392.3 1487.2 L405.1 1509.7 L379.5 1509.7 Z"/><path d="M420.4 1487.2 L433.2 1509.7 L407.6 1509.7 Z"/><path d="M448.6 1487.2 L461.4 1509.7 L435.8 1509.7 Z"/><path d="M476.8 1487.2 L489.6 1509.7 L463.9 1509.7 Z"/><path d="M504.9 1487.2 L517.7 1509.7 L492.1 1509.7 Z"/><path d="M533 1487.2 L545.8 1509.7 L520.2 1509.7 Z"/><path d="M561.2 1487.2 L574 1509.7 L548.4 1509.7 Z"/><path d="M589.4 1487.2 L602.1 1509.7 L576.6 1509.7 Z"/><path d="M617.5 1487.2 L630.3 1509.7 L604.7 1509.7 Z"/><path d="M645.6 1487.2 L658.4 1509.7 L632.9 1509.7 Z"/><path d="M673.8 1487.2 L686.6 1509.7 L661 1509.7 Z"/><path d="M702 1487.2 L714.8 1509.7 L689.2 1509.7 Z"/><path d="M730.1 1487.2 L742.9 1509.7 L717.3 1509.7 Z"/><path d="M758.2 1487.2 L771 1509.7 L745.5 1509.7 Z"/><path d="M786.4 1487.2 L799.2 1509.7 L773.6 1509.7 Z"/><path d="M814.5 1487.2 L827.3 1509.7 L801.8 1509.7 Z"/><path d="M842.7 1487.2 L855.5 1509.7 L829.9 1509.7 Z"/><path d="M870.9 1487.2 L883.6 1509.7 L858.1 1509.7 Z"/><path d="M899 1487.2 L911.8 1509.7 L886.2 1509.7 Z"/><path d="M927.1 1487.2 L939.9 1509.7 L914.4 1509.7 Z"/><path d="M955.3 1487.2 L968.1 1509.7 L942.5 1509.7 Z"/><path d="M983.4 1487.2 L996.2 1509.7 L970.6 1509.7 Z"/><path d="M1011.6 1487.2 L1024.4 1509.7 L998.8 1509.7 Z"/><path d="M1039.8 1487.2 L1052.5 1509.7 L1027 1509.7 Z"/><path d="M1067.9 1487.2 L1080.7 1509.7 L1055.1 1509.7 Z"/><path d="M1096 1487.2 L1108.8 1509.7 L1083.2 1509.7 Z"/><path d="M1124.2 1487.2 L1137 1509.7 L1111.4 1509.7 Z"/><path d="M1152.3 1487.2 L1165.1 1509.7 L1139.5 1509.7 Z"/><path d="M1180.5 1487.2 L1193.3 1509.7 L1167.7 1509.7 Z"/><path d="M1208.7 1487.2 L1221.5 1509.7 L1195.9 1509.7 Z"/><path d="M1236.8 1487.2 L1249.6 1509.7 L1224 1509.7 Z"/><path d="M1264.9 1487.2 L1277.7 1509.7 L1252.1 1509.7 Z"/><path d="M1293.1 1459.3 L1305.9 1481.8 L1280.3 1481.8 Z"/><path d="M1321.2 942.2 L1334 964.7 L1308.5 964.7 Z"/>
</g>
<g fill="#7e1650" stroke="none">
<path d="M336 1486.5 L364.1 1486.5 L392.3 1486.5 L420.4 1486.5 L448.6 1486.5 L476.8 1486.5 L504.9 1486.5 L533 1486.5 L561.2 1486.5 L589.4 1478.9 L617.5 1474.3 L645.6 1469.9 L673.8 1460.7 L702 1447.1 L730.1 1439 L758.2 1433.5 L786.4 1428.1 L814.5 1421.3 L842.7 1414.5 L870.9 1411.8 L899 1409.1 L927.1 1401 L955.3 1395.5 L983.4 1390.1 L1011.6 1384.7 L1039.8 1376.5 L1067.9 1368.4 L1096 1364.9 L1124.2 1363.5 L1152.3 1361.1 L1180.5 1281.5 L1208.7 1251.7 L1236.8 1223.4 L1264.9 1196 L1293.1 1154 L1321.2 1124.1 L1349.4 1083.4 L1377.5 1042.7 L1405.7 1003.6 L1433.8 953.1 L1462 904.2 L1490.1 844.5 L1518.3 779.4 L1546.5 342.3 L1552 0" fill="none" stroke="#7e1650" stroke-width="7.0" stroke-linejoin="round" stroke-linecap="butt"/>
<path d="M336 1471.5 L348.8 1494 L323.2 1494 Z"/><path d="M364.1 1471.5 L376.9 1494 L351.3 1494 Z"/><path d="M392.3 1471.5 L405.1 1494 L379.5 1494 Z"/><path d="M420.4 1471.5 L433.2 1494 L407.6 1494 Z"/><path d="M448.6 1471.5 L461.4 1494 L435.8 1494 Z"/><path d="M476.8 1471.5 L489.6 1494 L463.9 1494 Z"/><path d="M504.9 1471.5 L517.7 1494 L492.1 1494 Z"/><path d="M533 1471.5 L545.8 1494 L520.2 1494 Z"/><path d="M561.2 1471.5 L574 1494 L548.4 1494 Z"/><path d="M589.4 1463.9 L602.1 1486.4 L576.6 1486.4 Z"/><path d="M617.5 1459.3 L630.3 1481.8 L604.7 1481.8 Z"/><path d="M645.6 1454.9 L658.4 1477.4 L632.9 1477.4 Z"/><path d="M673.8 1445.7 L686.6 1468.2 L661 1468.2 Z"/><path d="M702 1432.1 L714.8 1454.6 L689.2 1454.6 Z"/><path d="M730.1 1424 L742.9 1446.5 L717.3 1446.5 Z"/><path d="M758.2 1418.5 L771 1441 L745.5 1441 Z"/><path d="M786.4 1413.1 L799.2 1435.6 L773.6 1435.6 Z"/><path d="M814.5 1406.3 L827.3 1428.8 L801.8 1428.8 Z"/><path d="M842.7 1399.5 L855.5 1422 L829.9 1422 Z"/><path d="M870.9 1396.8 L883.6 1419.3 L858.1 1419.3 Z"/><path d="M899 1394.1 L911.8 1416.6 L886.2 1416.6 Z"/><path d="M927.1 1386 L939.9 1408.5 L914.4 1408.5 Z"/><path d="M955.3 1380.5 L968.1 1403 L942.5 1403 Z"/><path d="M983.4 1375.1 L996.2 1397.6 L970.6 1397.6 Z"/><path d="M1011.6 1369.7 L1024.4 1392.2 L998.8 1392.2 Z"/><path d="M1039.8 1361.5 L1052.5 1384 L1027 1384 Z"/><path d="M1067.9 1353.4 L1080.7 1375.9 L1055.1 1375.9 Z"/><path d="M1096 1349.9 L1108.8 1372.4 L1083.2 1372.4 Z"/><path d="M1124.2 1348.5 L1137 1371 L1111.4 1371 Z"/><path d="M1152.3 1346.1 L1165.1 1368.6 L1139.5 1368.6 Z"/><path d="M1180.5 1266.5 L1193.3 1289 L1167.7 1289 Z"/><path d="M1208.7 1236.7 L1221.5 1259.2 L1195.9 1259.2 Z"/><path d="M1236.8 1208.4 L1249.6 1230.9 L1224 1230.9 Z"/><path d="M1264.9 1181 L1277.7 1203.5 L1252.1 1203.5 Z"/><path d="M1293.1 1139 L1305.9 1161.5 L1280.3 1161.5 Z"/><path d="M1321.2 1109.1 L1334 1131.6 L1308.5 1131.6 Z"/><path d="M1349.4 1068.4 L1362.2 1090.9 L1336.6 1090.9 Z"/><path d="M1377.5 1027.7 L1390.3 1050.2 L1364.8 1050.2 Z"/><path d="M1405.7 988.6 L1418.5 1011.1 L1392.9 1011.1 Z"/><path d="M1433.8 938.1 L1446.6 960.6 L1421 960.6 Z"/><path d="M1462 889.2 L1474.8 911.7 L1449.2 911.7 Z"/><path d="M1490.1 829.5 L1502.9 852 L1477.3 852 Z"/><path d="M1518.3 764.4 L1531.1 786.9 L1505.5 786.9 Z"/><path d="M1546.5 327.3 L1559.2 349.8 L1533.7 349.8 Z"/>
</g>
<g fill="#7e1650" stroke="none">
<path d="M336 1483.8 L364.1 1483.8 L392.3 1483.8 L420.4 1483.8 L448.6 1483.8 L476.8 1483.8 L504.9 1483.8 L533 1483.8 L561.2 1483.8 L589.4 1483.8 L617.5 1483.8 L645.6 1483.8 L673.8 1477 L702 1463.4 L730.1 1447.1 L758.2 1439 L786.4 1433.5 L814.5 1425.4 L842.7 1417.3 L870.9 1411.8 L899 1409.1 L927.1 1401 L955.3 1395.5 L983.4 1390.1 L1011.6 1384.7 L1039.8 1376.5 L1067.9 1368.4 L1096 1364.3 L1124.2 1363 L1152.3 1360.3 L1180.5 1357.5 L1208.7 1346.7 L1236.8 1341.3 L1264.9 1335.8 L1293.1 1330.4 L1321.2 1325 L1349.4 1316.8 L1377.5 1304.9 L1405.7 1295.9 L1433.8 1274.5 L1462 1247.3 L1490.1 1222.9 L1518.3 1192 L1546.5 1155.9 L1574.6 1097.5 L1602.8 1011.4 L1630.9 868.9 L1659 600.2 L1691 0" fill="none" stroke="#7e1650" stroke-width="7.0" stroke-linejoin="round" stroke-linecap="butt"/>
<path d="M336 1468.8 L348.8 1491.3 L323.2 1491.3 Z"/><path d="M364.1 1468.8 L376.9 1491.3 L351.3 1491.3 Z"/><path d="M392.3 1468.8 L405.1 1491.3 L379.5 1491.3 Z"/><path d="M420.4 1468.8 L433.2 1491.3 L407.6 1491.3 Z"/><path d="M448.6 1468.8 L461.4 1491.3 L435.8 1491.3 Z"/><path d="M476.8 1468.8 L489.6 1491.3 L463.9 1491.3 Z"/><path d="M504.9 1468.8 L517.7 1491.3 L492.1 1491.3 Z"/><path d="M533 1468.8 L545.8 1491.3 L520.2 1491.3 Z"/><path d="M561.2 1468.8 L574 1491.3 L548.4 1491.3 Z"/><path d="M589.4 1468.8 L602.1 1491.3 L576.6 1491.3 Z"/><path d="M617.5 1468.8 L630.3 1491.3 L604.7 1491.3 Z"/><path d="M645.6 1468.8 L658.4 1491.3 L632.9 1491.3 Z"/><path d="M673.8 1462 L686.6 1484.5 L661 1484.5 Z"/><path d="M702 1448.4 L714.8 1470.9 L689.2 1470.9 Z"/><path d="M730.1 1432.1 L742.9 1454.6 L717.3 1454.6 Z"/><path d="M758.2 1424 L771 1446.5 L745.5 1446.5 Z"/><path d="M786.4 1418.5 L799.2 1441 L773.6 1441 Z"/><path d="M814.5 1410.4 L827.3 1432.9 L801.8 1432.9 Z"/><path d="M842.7 1402.3 L855.5 1424.8 L829.9 1424.8 Z"/><path d="M870.9 1396.8 L883.6 1419.3 L858.1 1419.3 Z"/><path d="M899 1394.1 L911.8 1416.6 L886.2 1416.6 Z"/><path d="M927.1 1386 L939.9 1408.5 L914.4 1408.5 Z"/><path d="M955.3 1380.5 L968.1 1403 L942.5 1403 Z"/><path d="M983.4 1375.1 L996.2 1397.6 L970.6 1397.6 Z"/><path d="M1011.6 1369.7 L1024.4 1392.2 L998.8 1392.2 Z"/><path d="M1039.8 1361.5 L1052.5 1384 L1027 1384 Z"/><path d="M1067.9 1353.4 L1080.7 1375.9 L1055.1 1375.9 Z"/><path d="M1096 1349.3 L1108.8 1371.8 L1083.2 1371.8 Z"/><path d="M1124.2 1348 L1137 1370.5 L1111.4 1370.5 Z"/><path d="M1152.3 1345.3 L1165.1 1367.8 L1139.5 1367.8 Z"/><path d="M1180.5 1342.5 L1193.3 1365 L1167.7 1365 Z"/><path d="M1208.7 1331.7 L1221.5 1354.2 L1195.9 1354.2 Z"/><path d="M1236.8 1326.3 L1249.6 1348.8 L1224 1348.8 Z"/><path d="M1264.9 1320.8 L1277.7 1343.3 L1252.1 1343.3 Z"/><path d="M1293.1 1315.4 L1305.9 1337.9 L1280.3 1337.9 Z"/><path d="M1321.2 1310 L1334 1332.5 L1308.5 1332.5 Z"/><path d="M1349.4 1301.8 L1362.2 1324.3 L1336.6 1324.3 Z"/><path d="M1377.5 1289.9 L1390.3 1312.4 L1364.8 1312.4 Z"/><path d="M1405.7 1280.9 L1418.5 1303.4 L1392.9 1303.4 Z"/><path d="M1433.8 1259.5 L1446.6 1282 L1421 1282 Z"/><path d="M1462 1232.3 L1474.8 1254.8 L1449.2 1254.8 Z"/><path d="M1490.1 1207.9 L1502.9 1230.4 L1477.3 1230.4 Z"/><path d="M1518.3 1177 L1531.1 1199.5 L1505.5 1199.5 Z"/><path d="M1546.5 1140.9 L1559.2 1163.4 L1533.7 1163.4 Z"/><path d="M1574.6 1082.5 L1587.4 1105 L1561.8 1105 Z"/><path d="M1602.8 996.4 L1615.5 1018.9 L1590 1018.9 Z"/><path d="M1630.9 853.9 L1643.7 876.4 L1618.1 876.4 Z"/><path d="M1659 585.2 L1671.8 607.7 L1646.2 607.7 Z"/>
</g>
<g fill="#7e1650" stroke="none">
<path d="M336 1496 L364.1 1496 L392.3 1496 L420.4 1496 L448.6 1496 L476.8 1496 L504.9 1496 L533 1496 L561.2 1496 L589.4 1496 L617.5 1496 L645.6 1496 L673.8 1496 L702 1496 L730.1 1496 L758.2 1496 L786.4 1496 L814.5 1496 L842.7 1496 L870.9 1496 L899 1496 L927.1 1496 L955.3 1496 L983.4 1496 L1011.6 1496 L1039.8 1496 L1067.9 1475.1 L1096 1475.1 L1124.2 1469.9 L1152.3 1467.5 L1180.5 1463.4 L1208.7 1459.3 L1236.8 1456.6 L1264.9 1453.9 L1293.1 1449.8 L1321.2 1445.8 L1349.4 1437.6 L1377.5 1425.4 L1405.7 1409.1 L1433.8 1376.5 L1462 1349.4 L1490.1 1285.9 L1518.3 1173 L1546.5 860.8 L1552 0" fill="none" stroke="#7e1650" stroke-width="7.0" stroke-linejoin="round" stroke-linecap="butt"/>
<path d="M336 1481 L348.8 1503.5 L323.2 1503.5 Z"/><path d="M364.1 1481 L376.9 1503.5 L351.3 1503.5 Z"/><path d="M392.3 1481 L405.1 1503.5 L379.5 1503.5 Z"/><path d="M420.4 1481 L433.2 1503.5 L407.6 1503.5 Z"/><path d="M448.6 1481 L461.4 1503.5 L435.8 1503.5 Z"/><path d="M476.8 1481 L489.6 1503.5 L463.9 1503.5 Z"/><path d="M504.9 1481 L517.7 1503.5 L492.1 1503.5 Z"/><path d="M533 1481 L545.8 1503.5 L520.2 1503.5 Z"/><path d="M561.2 1481 L574 1503.5 L548.4 1503.5 Z"/><path d="M589.4 1481 L602.1 1503.5 L576.6 1503.5 Z"/><path d="M617.5 1481 L630.3 1503.5 L604.7 1503.5 Z"/><path d="M645.6 1481 L658.4 1503.5 L632.9 1503.5 Z"/><path d="M673.8 1481 L686.6 1503.5 L661 1503.5 Z"/><path d="M702 1481 L714.8 1503.5 L689.2 1503.5 Z"/><path d="M730.1 1481 L742.9 1503.5 L717.3 1503.5 Z"/><path d="M758.2 1481 L771 1503.5 L745.5 1503.5 Z"/><path d="M786.4 1481 L799.2 1503.5 L773.6 1503.5 Z"/><path d="M814.5 1481 L827.3 1503.5 L801.8 1503.5 Z"/><path d="M842.7 1481 L855.5 1503.5 L829.9 1503.5 Z"/><path d="M870.9 1481 L883.6 1503.5 L858.1 1503.5 Z"/><path d="M899 1481 L911.8 1503.5 L886.2 1503.5 Z"/><path d="M927.1 1481 L939.9 1503.5 L914.4 1503.5 Z"/><path d="M955.3 1481 L968.1 1503.5 L942.5 1503.5 Z"/><path d="M983.4 1481 L996.2 1503.5 L970.6 1503.5 Z"/><path d="M1011.6 1481 L1024.4 1503.5 L998.8 1503.5 Z"/><path d="M1039.8 1481 L1052.5 1503.5 L1027 1503.5 Z"/><path d="M1067.9 1460.1 L1080.7 1482.6 L1055.1 1482.6 Z"/><path d="M1096 1460.1 L1108.8 1482.6 L1083.2 1482.6 Z"/><path d="M1124.2 1454.9 L1137 1477.4 L1111.4 1477.4 Z"/><path d="M1152.3 1452.5 L1165.1 1475 L1139.5 1475 Z"/><path d="M1180.5 1448.4 L1193.3 1470.9 L1167.7 1470.9 Z"/><path d="M1208.7 1444.3 L1221.5 1466.8 L1195.9 1466.8 Z"/><path d="M1236.8 1441.6 L1249.6 1464.1 L1224 1464.1 Z"/><path d="M1264.9 1438.9 L1277.7 1461.4 L1252.1 1461.4 Z"/><path d="M1293.1 1434.8 L1305.9 1457.3 L1280.3 1457.3 Z"/><path d="M1321.2 1430.8 L1334 1453.3 L1308.5 1453.3 Z"/><path d="M1349.4 1422.6 L1362.2 1445.1 L1336.6 1445.1 Z"/><path d="M1377.5 1410.4 L1390.3 1432.9 L1364.8 1432.9 Z"/><path d="M1405.7 1394.1 L1418.5 1416.6 L1392.9 1416.6 Z"/><path d="M1433.8 1361.5 L1446.6 1384 L1421 1384 Z"/><path d="M1462 1334.4 L1474.8 1356.9 L1449.2 1356.9 Z"/><path d="M1490.1 1270.9 L1502.9 1293.4 L1477.3 1293.4 Z"/><path d="M1518.3 1158 L1531.1 1180.5 L1505.5 1180.5 Z"/><path d="M1546.5 845.8 L1559.2 868.3 L1533.7 868.3 Z"/>
</g>
<g fill="#7e1650" stroke="none">
<path d="M336 1495.4 L364.1 1495.4 L392.3 1495.4 L420.4 1495.4 L448.6 1495.4 L476.8 1495.4 L504.9 1495.4 L533 1495.4 L561.2 1495.4 L589.4 1495.4 L617.5 1495.4 L645.6 1495.4 L673.8 1495.4 L702 1495.4 L730.1 1495.4 L758.2 1495.4 L786.4 1495.4 L814.5 1495.4 L842.7 1495.4 L870.9 1495.4 L899 1495.4 L927.1 1495.4 L955.3 1495.4 L983.4 1495.4 L1011.6 1495.4 L1039.8 1495.4 L1067.9 1495.4 L1096 1495.4 L1124.2 1495.4 L1152.3 1495.4 L1180.5 1495.4 L1208.7 1495.4 L1236.8 1495.4 L1264.9 1495.4 L1293.1 1495.4 L1321.2 1495.4 L1349.4 1495.4 L1377.5 1495.4 L1405.7 1495.4 L1433.8 1495.4 L1462 1495.4 L1490.1 1485.9 L1518.3 1456.9 L1546.5 706.1 L1574.6 619.2 L1602.8 518.8 L1630.9 410.2 L1659 279.9 L1687.2 171.3 L1730 0" fill="none" stroke="#7e1650" stroke-width="7.0" stroke-linejoin="round" stroke-linecap="butt"/>
<path d="M336 1480.4 L348.8 1502.9 L323.2 1502.9 Z"/><path d="M364.1 1480.4 L376.9 1502.9 L351.3 1502.9 Z"/><path d="M392.3 1480.4 L405.1 1502.9 L379.5 1502.9 Z"/><path d="M420.4 1480.4 L433.2 1502.9 L407.6 1502.9 Z"/><path d="M448.6 1480.4 L461.4 1502.9 L435.8 1502.9 Z"/><path d="M476.8 1480.4 L489.6 1502.9 L463.9 1502.9 Z"/><path d="M504.9 1480.4 L517.7 1502.9 L492.1 1502.9 Z"/><path d="M533 1480.4 L545.8 1502.9 L520.2 1502.9 Z"/><path d="M561.2 1480.4 L574 1502.9 L548.4 1502.9 Z"/><path d="M589.4 1480.4 L602.1 1502.9 L576.6 1502.9 Z"/><path d="M617.5 1480.4 L630.3 1502.9 L604.7 1502.9 Z"/><path d="M645.6 1480.4 L658.4 1502.9 L632.9 1502.9 Z"/><path d="M673.8 1480.4 L686.6 1502.9 L661 1502.9 Z"/><path d="M702 1480.4 L714.8 1502.9 L689.2 1502.9 Z"/><path d="M730.1 1480.4 L742.9 1502.9 L717.3 1502.9 Z"/><path d="M758.2 1480.4 L771 1502.9 L745.5 1502.9 Z"/><path d="M786.4 1480.4 L799.2 1502.9 L773.6 1502.9 Z"/><path d="M814.5 1480.4 L827.3 1502.9 L801.8 1502.9 Z"/><path d="M842.7 1480.4 L855.5 1502.9 L829.9 1502.9 Z"/><path d="M870.9 1480.4 L883.6 1502.9 L858.1 1502.9 Z"/><path d="M899 1480.4 L911.8 1502.9 L886.2 1502.9 Z"/><path d="M927.1 1480.4 L939.9 1502.9 L914.4 1502.9 Z"/><path d="M955.3 1480.4 L968.1 1502.9 L942.5 1502.9 Z"/><path d="M983.4 1480.4 L996.2 1502.9 L970.6 1502.9 Z"/><path d="M1011.6 1480.4 L1024.4 1502.9 L998.8 1502.9 Z"/><path d="M1039.8 1480.4 L1052.5 1502.9 L1027 1502.9 Z"/><path d="M1067.9 1480.4 L1080.7 1502.9 L1055.1 1502.9 Z"/><path d="M1096 1480.4 L1108.8 1502.9 L1083.2 1502.9 Z"/><path d="M1124.2 1480.4 L1137 1502.9 L1111.4 1502.9 Z"/><path d="M1152.3 1480.4 L1165.1 1502.9 L1139.5 1502.9 Z"/><path d="M1180.5 1480.4 L1193.3 1502.9 L1167.7 1502.9 Z"/><path d="M1208.7 1480.4 L1221.5 1502.9 L1195.9 1502.9 Z"/><path d="M1236.8 1480.4 L1249.6 1502.9 L1224 1502.9 Z"/><path d="M1264.9 1480.4 L1277.7 1502.9 L1252.1 1502.9 Z"/><path d="M1293.1 1480.4 L1305.9 1502.9 L1280.3 1502.9 Z"/><path d="M1321.2 1480.4 L1334 1502.9 L1308.5 1502.9 Z"/><path d="M1349.4 1480.4 L1362.2 1502.9 L1336.6 1502.9 Z"/><path d="M1377.5 1480.4 L1390.3 1502.9 L1364.8 1502.9 Z"/><path d="M1405.7 1480.4 L1418.5 1502.9 L1392.9 1502.9 Z"/><path d="M1433.8 1480.4 L1446.6 1502.9 L1421 1502.9 Z"/><path d="M1462 1480.4 L1474.8 1502.9 L1449.2 1502.9 Z"/><path d="M1490.1 1470.9 L1502.9 1493.4 L1477.3 1493.4 Z"/><path d="M1518.3 1441.9 L1531.1 1464.4 L1505.5 1464.4 Z"/><path d="M1546.5 691.1 L1559.2 713.6 L1533.7 713.6 Z"/><path d="M1574.6 604.2 L1587.4 626.7 L1561.8 626.7 Z"/><path d="M1602.8 503.8 L1615.5 526.3 L1590 526.3 Z"/><path d="M1630.9 395.2 L1643.7 417.7 L1618.1 417.7 Z"/><path d="M1659 264.9 L1671.8 287.4 L1646.2 287.4 Z"/><path d="M1687.2 156.3 L1700 178.8 L1674.4 178.8 Z"/>
</g>
<g fill="#7e1650" stroke="none">
<path d="M336 1490.5 L364.1 1490.5 L392.3 1490.5 L420.4 1490.5 L448.6 1490.5 L476.8 1490.5 L504.9 1490.5 L533 1490.5 L561.2 1490.5 L589.4 1490.5 L617.5 1490.5 L645.6 1490.5 L673.8 1490.5 L702 1490.5 L730.1 1490.5 L758.2 1490.5 L786.4 1490.5 L814.5 1490.5 L842.7 1490.5 L870.9 1490.5 L899 1490.5 L927.1 1490.5 L955.3 1490.5 L983.4 1490.5 L1011.6 1490.5 L1039.8 1490.5 L1067.9 1490.5 L1096 1490.5 L1124.2 1490.5 L1152.3 1490.5 L1180.5 1490.5 L1208.7 1490.5 L1236.8 1490.5 L1264.9 1490.5 L1293.1 1490.5 L1321.2 1490.5 L1349.4 1490.5 L1377.5 1490.5 L1405.7 1490.5 L1433.8 1490.5 L1462 1490.5 L1490.1 1490.5 L1518.3 1490.5 L1546.5 1490.5 L1574.6 1490.5 L1602.8 1490.5 L1630.9 1490.5 L1659 1490.5 L1687.2 1490.5 L1715.3 1490.5 L1743.5 1490.5 L1771.6 1490.5 L1799.8 1402.1 L1827.9 1380.1 L1856.1 1294 L1884.2 575.8 L1912.4 480.8 L1940.5 395.2 L1971 0" fill="none" stroke="#7e1650" stroke-width="7.0" stroke-linejoin="round" stroke-linecap="butt"/>
<path d="M336 1475.5 L348.8 1498 L323.2 1498 Z"/><path d="M364.1 1475.5 L376.9 1498 L351.3 1498 Z"/><path d="M392.3 1475.5 L405.1 1498 L379.5 1498 Z"/><path d="M420.4 1475.5 L433.2 1498 L407.6 1498 Z"/><path d="M448.6 1475.5 L461.4 1498 L435.8 1498 Z"/><path d="M476.8 1475.5 L489.6 1498 L463.9 1498 Z"/><path d="M504.9 1475.5 L517.7 1498 L492.1 1498 Z"/><path d="M533 1475.5 L545.8 1498 L520.2 1498 Z"/><path d="M561.2 1475.5 L574 1498 L548.4 1498 Z"/><path d="M589.4 1475.5 L602.1 1498 L576.6 1498 Z"/><path d="M617.5 1475.5 L630.3 1498 L604.7 1498 Z"/><path d="M645.6 1475.5 L658.4 1498 L632.9 1498 Z"/><path d="M673.8 1475.5 L686.6 1498 L661 1498 Z"/><path d="M702 1475.5 L714.8 1498 L689.2 1498 Z"/><path d="M730.1 1475.5 L742.9 1498 L717.3 1498 Z"/><path d="M758.2 1475.5 L771 1498 L745.5 1498 Z"/><path d="M786.4 1475.5 L799.2 1498 L773.6 1498 Z"/><path d="M814.5 1475.5 L827.3 1498 L801.8 1498 Z"/><path d="M842.7 1475.5 L855.5 1498 L829.9 1498 Z"/><path d="M870.9 1475.5 L883.6 1498 L858.1 1498 Z"/><path d="M899 1475.5 L911.8 1498 L886.2 1498 Z"/><path d="M927.1 1475.5 L939.9 1498 L914.4 1498 Z"/><path d="M955.3 1475.5 L968.1 1498 L942.5 1498 Z"/><path d="M983.4 1475.5 L996.2 1498 L970.6 1498 Z"/><path d="M1011.6 1475.5 L1024.4 1498 L998.8 1498 Z"/><path d="M1039.8 1475.5 L1052.5 1498 L1027 1498 Z"/><path d="M1067.9 1475.5 L1080.7 1498 L1055.1 1498 Z"/><path d="M1096 1475.5 L1108.8 1498 L1083.2 1498 Z"/><path d="M1124.2 1475.5 L1137 1498 L1111.4 1498 Z"/><path d="M1152.3 1475.5 L1165.1 1498 L1139.5 1498 Z"/><path d="M1180.5 1475.5 L1193.3 1498 L1167.7 1498 Z"/><path d="M1208.7 1475.5 L1221.5 1498 L1195.9 1498 Z"/><path d="M1236.8 1475.5 L1249.6 1498 L1224 1498 Z"/><path d="M1264.9 1475.5 L1277.7 1498 L1252.1 1498 Z"/><path d="M1293.1 1475.5 L1305.9 1498 L1280.3 1498 Z"/><path d="M1321.2 1475.5 L1334 1498 L1308.5 1498 Z"/><path d="M1349.4 1475.5 L1362.2 1498 L1336.6 1498 Z"/><path d="M1377.5 1475.5 L1390.3 1498 L1364.8 1498 Z"/><path d="M1405.7 1475.5 L1418.5 1498 L1392.9 1498 Z"/><path d="M1433.8 1475.5 L1446.6 1498 L1421 1498 Z"/><path d="M1462 1475.5 L1474.8 1498 L1449.2 1498 Z"/><path d="M1490.1 1475.5 L1502.9 1498 L1477.3 1498 Z"/><path d="M1518.3 1475.5 L1531.1 1498 L1505.5 1498 Z"/><path d="M1546.5 1475.5 L1559.2 1498 L1533.7 1498 Z"/><path d="M1574.6 1475.5 L1587.4 1498 L1561.8 1498 Z"/><path d="M1602.8 1475.5 L1615.5 1498 L1590 1498 Z"/><path d="M1630.9 1475.5 L1643.7 1498 L1618.1 1498 Z"/><path d="M1659 1475.5 L1671.8 1498 L1646.2 1498 Z"/><path d="M1687.2 1475.5 L1700 1498 L1674.4 1498 Z"/><path d="M1715.3 1475.5 L1728.1 1498 L1702.5 1498 Z"/><path d="M1743.5 1475.5 L1756.3 1498 L1730.7 1498 Z"/><path d="M1771.6 1475.5 L1784.4 1498 L1758.8 1498 Z"/><path d="M1799.8 1387.1 L1812.6 1409.6 L1787 1409.6 Z"/><path d="M1827.9 1365.1 L1840.7 1387.6 L1815.1 1387.6 Z"/><path d="M1856.1 1279 L1868.9 1301.5 L1843.3 1301.5 Z"/><path d="M1884.2 560.8 L1897 583.3 L1871.5 583.3 Z"/><path d="M1912.4 465.8 L1925.2 488.3 L1899.6 488.3 Z"/><path d="M1940.5 380.2 L1953.3 402.7 L1927.8 402.7 Z"/>
</g>
<g fill="#7e1650" stroke="none">
<path d="M336 1479.7 L364.1 1479.7 L392.3 1479.7 L420.4 1479.7 L448.6 1479.7 L476.8 1479.7 L504.9 1479.7 L533 1479.7 L561.2 1479.7 L589.4 1479.7 L617.5 1479.7 L645.6 1479.7 L673.8 1479.7 L702 1479.7 L730.1 1479.7 L758.2 1479.7 L786.4 1479.7 L814.5 1479.7 L842.7 1479.7 L870.9 1479.7 L899 1479.7 L927.1 1479.7 L955.3 1479.7 L983.4 1479.7 L1011.6 1479.7 L1039.8 1479.7 L1067.9 1479.7 L1096 1479.7 L1124.2 1479.7 L1152.3 1479.7 L1180.5 1479.7 L1208.7 1479.7 L1236.8 1479.7 L1264.9 1479.7 L1293.1 1479.7 L1321.2 1479.7 L1349.4 1479.7 L1377.5 1479.7 L1405.7 1479.7 L1433.8 1479.7 L1462 1479.7" fill="none" stroke="#7e1650" stroke-width="7.0" stroke-linejoin="round" stroke-linecap="butt"/>
<path d="M336 1464.7 L348.8 1487.2 L323.2 1487.2 Z"/><path d="M364.1 1464.7 L376.9 1487.2 L351.3 1487.2 Z"/><path d="M392.3 1464.7 L405.1 1487.2 L379.5 1487.2 Z"/><path d="M420.4 1464.7 L433.2 1487.2 L407.6 1487.2 Z"/><path d="M448.6 1464.7 L461.4 1487.2 L435.8 1487.2 Z"/><path d="M476.8 1464.7 L489.6 1487.2 L463.9 1487.2 Z"/><path d="M504.9 1464.7 L517.7 1487.2 L492.1 1487.2 Z"/><path d="M533 1464.7 L545.8 1487.2 L520.2 1487.2 Z"/><path d="M561.2 1464.7 L574 1487.2 L548.4 1487.2 Z"/><path d="M589.4 1464.7 L602.1 1487.2 L576.6 1487.2 Z"/><path d="M617.5 1464.7 L630.3 1487.2 L604.7 1487.2 Z"/><path d="M645.6 1464.7 L658.4 1487.2 L632.9 1487.2 Z"/><path d="M673.8 1464.7 L686.6 1487.2 L661 1487.2 Z"/><path d="M702 1464.7 L714.8 1487.2 L689.2 1487.2 Z"/><path d="M730.1 1464.7 L742.9 1487.2 L717.3 1487.2 Z"/><path d="M758.2 1464.7 L771 1487.2 L745.5 1487.2 Z"/><path d="M786.4 1464.7 L799.2 1487.2 L773.6 1487.2 Z"/><path d="M814.5 1464.7 L827.3 1487.2 L801.8 1487.2 Z"/><path d="M842.7 1464.7 L855.5 1487.2 L829.9 1487.2 Z"/><path d="M870.9 1464.7 L883.6 1487.2 L858.1 1487.2 Z"/><path d="M899 1464.7 L911.8 1487.2 L886.2 1487.2 Z"/><path d="M927.1 1464.7 L939.9 1487.2 L914.4 1487.2 Z"/><path d="M955.3 1464.7 L968.1 1487.2 L942.5 1487.2 Z"/><path d="M983.4 1464.7 L996.2 1487.2 L970.6 1487.2 Z"/><path d="M1011.6 1464.7 L1024.4 1487.2 L998.8 1487.2 Z"/><path d="M1039.8 1464.7 L1052.5 1487.2 L1027 1487.2 Z"/><path d="M1067.9 1464.7 L1080.7 1487.2 L1055.1 1487.2 Z"/><path d="M1096 1464.7 L1108.8 1487.2 L1083.2 1487.2 Z"/><path d="M1124.2 1464.7 L1137 1487.2 L1111.4 1487.2 Z"/><path d="M1152.3 1464.7 L1165.1 1487.2 L1139.5 1487.2 Z"/><path d="M1180.5 1464.7 L1193.3 1487.2 L1167.7 1487.2 Z"/><path d="M1208.7 1464.7 L1221.5 1487.2 L1195.9 1487.2 Z"/><path d="M1236.8 1464.7 L1249.6 1487.2 L1224 1487.2 Z"/><path d="M1264.9 1464.7 L1277.7 1487.2 L1252.1 1487.2 Z"/><path d="M1293.1 1464.7 L1305.9 1487.2 L1280.3 1487.2 Z"/><path d="M1321.2 1464.7 L1334 1487.2 L1308.5 1487.2 Z"/><path d="M1349.4 1464.7 L1362.2 1487.2 L1336.6 1487.2 Z"/><path d="M1377.5 1464.7 L1390.3 1487.2 L1364.8 1487.2 Z"/><path d="M1405.7 1464.7 L1418.5 1487.2 L1392.9 1487.2 Z"/><path d="M1433.8 1464.7 L1446.6 1487.2 L1421 1487.2 Z"/><path d="M1462 1464.7 L1474.8 1487.2 L1449.2 1487.2 Z"/>
</g>
<g fill="#29a69a" stroke="none">
<path d="M336 1420.8 L364.1 1420.8 L392.3 1420.8 L420.4 1420.8 L448.6 1420.8 L476.8 1420.8 L504.9 1420.8 L533 1420.8 L561.2 1420.8 L589.4 1420.8 L617.5 1420.8 L645.6 1420.8 L673.8 1420.8 L702 1420.8 L730.1 1420.8 L758.2 1420.8 L786.4 1420.8 L814.5 1420.8 L842.7 1420.8 L870.9 1354.8 L899 1041.3 L925 0" fill="none" stroke="#29a69a" stroke-width="7.0" stroke-linejoin="round" stroke-linecap="butt"/>
<circle cx="336" cy="1420.8" r="9.9"/><circle cx="364.1" cy="1420.8" r="9.9"/><circle cx="392.3" cy="1420.8" r="9.9"/><circle cx="420.4" cy="1420.8" r="9.9"/><circle cx="448.6" cy="1420.8" r="9.9"/><circle cx="476.8" cy="1420.8" r="9.9"/><circle cx="504.9" cy="1420.8" r="9.9"/><circle cx="533" cy="1420.8" r="9.9"/><circle cx="561.2" cy="1420.8" r="9.9"/><circle cx="589.4" cy="1420.8" r="9.9"/><circle cx="617.5" cy="1420.8" r="9.9"/><circle cx="645.6" cy="1420.8" r="9.9"/><circle cx="673.8" cy="1420.8" r="9.9"/><circle cx="702" cy="1420.8" r="9.9"/><circle cx="730.1" cy="1420.8" r="9.9"/><circle cx="758.2" cy="1420.8" r="9.9"/><circle cx="786.4" cy="1420.8" r="9.9"/><circle cx="814.5" cy="1420.8" r="9.9"/><circle cx="842.7" cy="1420.8" r="9.9"/><circle cx="870.9" cy="1354.8" r="9.9"/><circle cx="899" cy="1041.3" r="9.9"/>
</g>
<g fill="#29a69a" stroke="none">
<path d="M336 1421.1 L364.1 1421.1 L392.3 1421.1 L420.4 1421.1 L448.6 1421.1 L476.8 1421.1 L504.9 1421.1 L533 1421.1 L561.2 1421.1 L589.4 1421.1 L617.5 1421.1 L645.6 1421.1 L673.8 1421.1 L702 1421.1 L730.1 1421.1 L758.2 1421.1 L786.4 1421.1 L814.5 1421.1 L842.7 1421.1 L870.9 1421.1 L899 1421.1 L927.1 1421.1 L955.3 1421.1 L983.4 1209.6 L1011.6 1045.4 L1039.8 562.2 L1051.7 0" fill="none" stroke="#29a69a" stroke-width="7.0" stroke-linejoin="round" stroke-linecap="butt"/>
<circle cx="336" cy="1421.1" r="9.9"/><circle cx="364.1" cy="1421.1" r="9.9"/><circle cx="392.3" cy="1421.1" r="9.9"/><circle cx="420.4" cy="1421.1" r="9.9"/><circle cx="448.6" cy="1421.1" r="9.9"/><circle cx="476.8" cy="1421.1" r="9.9"/><circle cx="504.9" cy="1421.1" r="9.9"/><circle cx="533" cy="1421.1" r="9.9"/><circle cx="561.2" cy="1421.1" r="9.9"/><circle cx="589.4" cy="1421.1" r="9.9"/><circle cx="617.5" cy="1421.1" r="9.9"/><circle cx="645.6" cy="1421.1" r="9.9"/><circle cx="673.8" cy="1421.1" r="9.9"/><circle cx="702" cy="1421.1" r="9.9"/><circle cx="730.1" cy="1421.1" r="9.9"/><circle cx="758.2" cy="1421.1" r="9.9"/><circle cx="786.4" cy="1421.1" r="9.9"/><circle cx="814.5" cy="1421.1" r="9.9"/><circle cx="842.7" cy="1421.1" r="9.9"/><circle cx="870.9" cy="1421.1" r="9.9"/><circle cx="899" cy="1421.1" r="9.9"/><circle cx="927.1" cy="1421.1" r="9.9"/><circle cx="955.3" cy="1421.1" r="9.9"/><circle cx="983.4" cy="1209.6" r="9.9"/><circle cx="1011.6" cy="1045.4" r="9.9"/><circle cx="1039.8" cy="562.2" r="9.9"/>
</g>
<g fill="#29a69a" stroke="none">
<path d="M336 1425.4 L364.1 1425.4 L392.3 1425.4 L420.4 1425.4 L448.6 1425.4 L476.8 1425.4 L504.9 1425.4 L533 1425.4 L561.2 1425.4 L589.4 1425.4 L617.5 1425.4 L645.6 1425.4 L673.8 1425.4 L702 1425.4 L730.1 1425.4 L758.2 1425.4 L786.4 1425.4 L814.5 1425.4 L842.7 1425.4 L870.9 1425.4 L899 1425.4 L927.1 1425.4 L955.3 1425.4 L983.4 1425.4 L1011.6 1425.4 L1039.8 1425.4 L1067.9 1425.4 L1096 1425.4 L1124.2 1425.4 L1152.3 1425.4 L1180.5 1425.4 L1208.7 1425.4 L1236.8 1382 L1264.9 1105.1 L1293.1 710.7 L1321.2 651.8 L1349.4 442.8 L1372 0" fill="none" stroke="#29a69a" stroke-width="7.0" stroke-linejoin="round" stroke-linecap="butt"/>
<circle cx="336" cy="1425.4" r="9.9"/><circle cx="364.1" cy="1425.4" r="9.9"/><circle cx="392.3" cy="1425.4" r="9.9"/><circle cx="420.4" cy="1425.4" r="9.9"/><circle cx="448.6" cy="1425.4" r="9.9"/><circle cx="476.8" cy="1425.4" r="9.9"/><circle cx="504.9" cy="1425.4" r="9.9"/><circle cx="533" cy="1425.4" r="9.9"/><circle cx="561.2" cy="1425.4" r="9.9"/><circle cx="589.4" cy="1425.4" r="9.9"/><circle cx="617.5" cy="1425.4" r="9.9"/><circle cx="645.6" cy="1425.4" r="9.9"/><circle cx="673.8" cy="1425.4" r="9.9"/><circle cx="702" cy="1425.4" r="9.9"/><circle cx="730.1" cy="1425.4" r="9.9"/><circle cx="758.2" cy="1425.4" r="9.9"/><circle cx="786.4" cy="1425.4" r="9.9"/><circle cx="814.5" cy="1425.4" r="9.9"/><circle cx="842.7" cy="1425.4" r="9.9"/><circle cx="870.9" cy="1425.4" r="9.9"/><circle cx="899" cy="1425.4" r="9.9"/><circle cx="927.1" cy="1425.4" r="9.9"/><circle cx="955.3" cy="1425.4" r="9.9"/><circle cx="983.4" cy="1425.4" r="9.9"/><circle cx="1011.6" cy="1425.4" r="9.9"/><circle cx="1039.8" cy="1425.4" r="9.9"/><circle cx="1067.9" cy="1425.4" r="9.9"/><circle cx="1096" cy="1425.4" r="9.9"/><circle cx="1124.2" cy="1425.4" r="9.9"/><circle cx="1152.3" cy="1425.4" r="9.9"/><circle cx="1180.5" cy="1425.4" r="9.9"/><circle cx="1208.7" cy="1425.4" r="9.9"/><circle cx="1236.8" cy="1382" r="9.9"/><circle cx="1264.9" cy="1105.1" r="9.9"/><circle cx="1293.1" cy="710.7" r="9.9"/><circle cx="1321.2" cy="651.8" r="9.9"/><circle cx="1349.4" cy="442.8" r="9.9"/>
</g>
<g fill="#29a69a" stroke="none">
<path d="M336 1417.3 L364.1 1417.3 L392.3 1417.3 L420.4 1417.3 L448.6 1417.3 L476.8 1417.3 L504.9 1417.3 L533 1417.3 L561.2 1417.3 L589.4 1417.3 L617.5 1417.3 L645.6 1417.3 L673.8 1417.3 L702 1417.3 L730.1 1417.3 L758.2 1417.3 L786.4 1417.3 L814.5 1417.3 L842.7 1417.3 L870.9 1417.3 L899 1417.3 L927.1 1417.3 L955.3 1417.3 L983.4 1417.3 L1011.6 1417.3 L1039.8 1417.3 L1067.9 1417.3 L1096 1417.3 L1124.2 1417.3 L1152.3 1417.3 L1180.5 1417.3 L1208.7 1417.3 L1236.8 1417.3 L1264.9 1417.3 L1293.1 1417.3 L1321.2 1417.3 L1349.4 1417.3 L1377.5 1417.3 L1405.7 1417.3 L1433.8 1417.3 L1462 1417.3 L1490.1 1417.3 L1518.3 1417.3 L1546.5 1417.3 L1574.6 1417.3 L1602.8 1409.1 L1630.9 1392 L1659 1227.2 L1687.2 1007.4 L1715.3 516 L1745.7 0" fill="none" stroke="#29a69a" stroke-width="7.0" stroke-linejoin="round" stroke-linecap="butt"/>
<circle cx="336" cy="1417.3" r="9.9"/><circle cx="364.1" cy="1417.3" r="9.9"/><circle cx="392.3" cy="1417.3" r="9.9"/><circle cx="420.4" cy="1417.3" r="9.9"/><circle cx="448.6" cy="1417.3" r="9.9"/><circle cx="476.8" cy="1417.3" r="9.9"/><circle cx="504.9" cy="1417.3" r="9.9"/><circle cx="533" cy="1417.3" r="9.9"/><circle cx="561.2" cy="1417.3" r="9.9"/><circle cx="589.4" cy="1417.3" r="9.9"/><circle cx="617.5" cy="1417.3" r="9.9"/><circle cx="645.6" cy="1417.3" r="9.9"/><circle cx="673.8" cy="1417.3" r="9.9"/><circle cx="702" cy="1417.3" r="9.9"/><circle cx="730.1" cy="1417.3" r="9.9"/><circle cx="758.2" cy="1417.3" r="9.9"/><circle cx="786.4" cy="1417.3" r="9.9"/><circle cx="814.5" cy="1417.3" r="9.9"/><circle cx="842.7" cy="1417.3" r="9.9"/><circle cx="870.9" cy="1417.3" r="9.9"/><circle cx="899" cy="1417.3" r="9.9"/><circle cx="927.1" cy="1417.3" r="9.9"/><circle cx="955.3" cy="1417.3" r="9.9"/><circle cx="983.4" cy="1417.3" r="9.9"/><circle cx="1011.6" cy="1417.3" r="9.9"/><circle cx="1039.8" cy="1417.3" r="9.9"/><circle cx="1067.9" cy="1417.3" r="9.9"/><circle cx="1096" cy="1417.3" r="9.9"/><circle cx="1124.2" cy="1417.3" r="9.9"/><circle cx="1152.3" cy="1417.3" r="9.9"/><circle cx="1180.5" cy="1417.3" r="9.9"/><circle cx="1208.7" cy="1417.3" r="9.9"/><circle cx="1236.8" cy="1417.3" r="9.9"/><circle cx="1264.9" cy="1417.3" r="9.9"/><circle cx="1293.1" cy="1417.3" r="9.9"/><circle cx="1321.2" cy="1417.3" r="9.9"/><circle cx="1349.4" cy="1417.3" r="9.9"/><circle cx="1377.5" cy="1417.3" r="9.9"/><circle cx="1405.7" cy="1417.3" r="9.9"/><circle cx="1433.8" cy="1417.3" r="9.9"/><circle cx="1462" cy="1417.3" r="9.9"/><circle cx="1490.1" cy="1417.3" r="9.9"/><circle cx="1518.3" cy="1417.3" r="9.9"/><circle cx="1546.5" cy="1417.3" r="9.9"/><circle cx="1574.6" cy="1417.3" r="9.9"/><circle cx="1602.8" cy="1409.1" r="9.9"/><circle cx="1630.9" cy="1392" r="9.9"/><circle cx="1659" cy="1227.2" r="9.9"/><circle cx="1687.2" cy="1007.4" r="9.9"/><circle cx="1715.3" cy="516" r="9.9"/>
</g>
<g fill="#29a69a" stroke="none">
<path d="M336 1414.5 L364.1 1414.5 L392.3 1414.5 L420.4 1414.5 L448.6 1414.5 L476.8 1414.5 L504.9 1414.5 L533 1414.5 L561.2 1414.5 L589.4 1414.5 L617.5 1414.5 L645.6 1414.5 L673.8 1414.5 L702 1414.5 L730.1 1414.5 L758.2 1414.5 L786.4 1414.5 L814.5 1414.5 L842.7 1414.5 L870.9 1414.5 L899 1414.5 L927.1 1414.5 L955.3 1414.5 L983.4 1414.5 L1011.6 1414.5 L1039.8 1414.5 L1067.9 1414.5 L1096 1414.5 L1124.2 1414.5 L1152.3 1414.5 L1180.5 1414.5 L1208.7 1414.5 L1236.8 1414.5 L1264.9 1414.5 L1293.1 1414.5 L1321.2 1414.5 L1349.4 1414.5 L1377.5 1414.5 L1405.7 1414.5 L1433.8 1414.5 L1462 1414.5 L1490.1 1414.5 L1518.3 1414.5 L1546.5 1414.5 L1574.6 1414.5 L1602.8 1414.5 L1630.9 1414.5 L1659 1412.1 L1687.2 1380.9 L1715.3 1366 L1743.5 1316 L1771.6 1269 L1799.8 980.2 L1827.9 855.4 L1856.1 176.7 L1902 0" fill="none" stroke="#29a69a" stroke-width="7.0" stroke-linejoin="round" stroke-linecap="butt"/>
<circle cx="336" cy="1414.5" r="9.9"/><circle cx="364.1" cy="1414.5" r="9.9"/><circle cx="392.3" cy="1414.5" r="9.9"/><circle cx="420.4" cy="1414.5" r="9.9"/><circle cx="448.6" cy="1414.5" r="9.9"/><circle cx="476.8" cy="1414.5" r="9.9"/><circle cx="504.9" cy="1414.5" r="9.9"/><circle cx="533" cy="1414.5" r="9.9"/><circle cx="561.2" cy="1414.5" r="9.9"/><circle cx="589.4" cy="1414.5" r="9.9"/><circle cx="617.5" cy="1414.5" r="9.9"/><circle cx="645.6" cy="1414.5" r="9.9"/><circle cx="673.8" cy="1414.5" r="9.9"/><circle cx="702" cy="1414.5" r="9.9"/><circle cx="730.1" cy="1414.5" r="9.9"/><circle cx="758.2" cy="1414.5" r="9.9"/><circle cx="786.4" cy="1414.5" r="9.9"/><circle cx="814.5" cy="1414.5" r="9.9"/><circle cx="842.7" cy="1414.5" r="9.9"/><circle cx="870.9" cy="1414.5" r="9.9"/><circle cx="899" cy="1414.5" r="9.9"/><circle cx="927.1" cy="1414.5" r="9.9"/><circle cx="955.3" cy="1414.5" r="9.9"/><circle cx="983.4" cy="1414.5" r="9.9"/><circle cx="1011.6" cy="1414.5" r="9.9"/><circle cx="1039.8" cy="1414.5" r="9.9"/><circle cx="1067.9" cy="1414.5" r="9.9"/><circle cx="1096" cy="1414.5" r="9.9"/><circle cx="1124.2" cy="1414.5" r="9.9"/><circle cx="1152.3" cy="1414.5" r="9.9"/><circle cx="1180.5" cy="1414.5" r="9.9"/><circle cx="1208.7" cy="1414.5" r="9.9"/><circle cx="1236.8" cy="1414.5" r="9.9"/><circle cx="1264.9" cy="1414.5" r="9.9"/><circle cx="1293.1" cy="1414.5" r="9.9"/><circle cx="1321.2" cy="1414.5" r="9.9"/><circle cx="1349.4" cy="1414.5" r="9.9"/><circle cx="1377.5" cy="1414.5" r="9.9"/><circle cx="1405.7" cy="1414.5" r="9.9"/><circle cx="1433.8" cy="1414.5" r="9.9"/><circle cx="1462" cy="1414.5" r="9.9"/><circle cx="1490.1" cy="1414.5" r="9.9"/><circle cx="1518.3" cy="1414.5" r="9.9"/><circle cx="1546.5" cy="1414.5" r="9.9"/><circle cx="1574.6" cy="1414.5" r="9.9"/><circle cx="1602.8" cy="1414.5" r="9.9"/><circle cx="1630.9" cy="1414.5" r="9.9"/><circle cx="1659" cy="1412.1" r="9.9"/><circle cx="1687.2" cy="1380.9" r="9.9"/><circle cx="1715.3" cy="1366" r="9.9"/><circle cx="1743.5" cy="1316" r="9.9"/><circle cx="1771.6" cy="1269" r="9.9"/><circle cx="1799.8" cy="980.2" r="9.9"/><circle cx="1827.9" cy="855.4" r="9.9"/><circle cx="1856.1" cy="176.7" r="9.9"/>
</g>
<g fill="#29a69a" stroke="none">
<path d="M336 1413.7 L364.1 1413.7 L392.3 1413.7 L420.4 1413.7 L448.6 1413.7 L476.8 1413.7 L504.9 1413.7 L533 1413.7 L561.2 1413.7 L589.4 1413.7 L617.5 1413.7 L645.6 1413.7 L673.8 1413.7 L702 1413.7 L730.1 1413.7 L758.2 1413.7 L786.4 1413.7 L814.5 1413.7 L842.7 1413.7 L870.9 1413.7 L899 1413.7 L927.1 1413.7 L955.3 1413.7 L983.4 1413.7 L1011.6 1413.7 L1039.8 1413.7 L1067.9 1413.7 L1096 1413.7 L1124.2 1413.7 L1152.3 1413.7 L1180.5 1413.7 L1208.7 1413.7 L1236.8 1413.7 L1264.9 1413.7 L1293.1 1413.7 L1321.2 1413.7 L1349.4 1413.7 L1377.5 1413.7 L1405.7 1413.7 L1433.8 1413.7 L1462 1413.7 L1490.1 1413.7 L1518.3 1413.7 L1546.5 1413.7 L1574.6 1413.7 L1602.8 1413.7 L1630.9 1413.7 L1659 1413.7 L1687.2 1413.7 L1715.3 1413.7 L1743.5 1413.7 L1771.6 1413.7 L1799.8 1413.7 L1827.9 1413.7 L1856.1 1413.7 L1884.2 1413.7 L1912.4 1413.7 L1940.5 1405 L1968.7 1383.1 L1996.8 1348 L2025 1222.9 L2053.1 952 L2081.3 789.4 L2109.4 608.3 L2137.6 409.1 L2168.6 0" fill="none" stroke="#29a69a" stroke-width="7.0" stroke-linejoin="round" stroke-linecap="butt"/>
<circle cx="336" cy="1413.7" r="9.9"/><circle cx="364.1" cy="1413.7" r="9.9"/><circle cx="392.3" cy="1413.7" r="9.9"/><circle cx="420.4" cy="1413.7" r="9.9"/><circle cx="448.6" cy="1413.7" r="9.9"/><circle cx="476.8" cy="1413.7" r="9.9"/><circle cx="504.9" cy="1413.7" r="9.9"/><circle cx="533" cy="1413.7" r="9.9"/><circle cx="561.2" cy="1413.7" r="9.9"/><circle cx="589.4" cy="1413.7" r="9.9"/><circle cx="617.5" cy="1413.7" r="9.9"/><circle cx="645.6" cy="1413.7" r="9.9"/><circle cx="673.8" cy="1413.7" r="9.9"/><circle cx="702" cy="1413.7" r="9.9"/><circle cx="730.1" cy="1413.7" r="9.9"/><circle cx="758.2" cy="1413.7" r="9.9"/><circle cx="786.4" cy="1413.7" r="9.9"/><circle cx="814.5" cy="1413.7" r="9.9"/><circle cx="842.7" cy="1413.7" r="9.9"/><circle cx="870.9" cy="1413.7" r="9.9"/><circle cx="899" cy="1413.7" r="9.9"/><circle cx="927.1" cy="1413.7" r="9.9"/><circle cx="955.3" cy="1413.7" r="9.9"/><circle cx="983.4" cy="1413.7" r="9.9"/><circle cx="1011.6" cy="1413.7" r="9.9"/><circle cx="1039.8" cy="1413.7" r="9.9"/><circle cx="1067.9" cy="1413.7" r="9.9"/><circle cx="1096" cy="1413.7" r="9.9"/><circle cx="1124.2" cy="1413.7" r="9.9"/><circle cx="1152.3" cy="1413.7" r="9.9"/><circle cx="1180.5" cy="1413.7" r="9.9"/><circle cx="1208.7" cy="1413.7" r="9.9"/><circle cx="1236.8" cy="1413.7" r="9.9"/><circle cx="1264.9" cy="1413.7" r="9.9"/><circle cx="1293.1" cy="1413.7" r="9.9"/><circle cx="1321.2" cy="1413.7" r="9.9"/><circle cx="1349.4" cy="1413.7" r="9.9"/><circle cx="1377.5" cy="1413.7" r="9.9"/><circle cx="1405.7" cy="1413.7" r="9.9"/><circle cx="1433.8" cy="1413.7" r="9.9"/><circle cx="1462" cy="1413.7" r="9.9"/><circle cx="1490.1" cy="1413.7" r="9.9"/><circle cx="1518.3" cy="1413.7" r="9.9"/><circle cx="1546.5" cy="1413.7" r="9.9"/><circle cx="1574.6" cy="1413.7" r="9.9"/><circle cx="1602.8" cy="1413.7" r="9.9"/><circle cx="1630.9" cy="1413.7" r="9.9"/><circle cx="1659" cy="1413.7" r="9.9"/><circle cx="1687.2" cy="1413.7" r="9.9"/><circle cx="1715.3" cy="1413.7" r="9.9"/><circle cx="1743.5" cy="1413.7" r="9.9"/><circle cx="1771.6" cy="1413.7" r="9.9"/><circle cx="1799.8" cy="1413.7" r="9.9"/><circle cx="1827.9" cy="1413.7" r="9.9"/><circle cx="1856.1" cy="1413.7" r="9.9"/><circle cx="1884.2" cy="1413.7" r="9.9"/><circle cx="1912.4" cy="1413.7" r="9.9"/><circle cx="1940.5" cy="1405" r="9.9"/><circle cx="1968.7" cy="1383.1" r="9.9"/><circle cx="1996.8" cy="1348" r="9.9"/><circle cx="2025" cy="1222.9" r="9.9"/><circle cx="2053.1" cy="952" r="9.9"/><circle cx="2081.3" cy="789.4" r="9.9"/><circle cx="2109.4" cy="608.3" r="9.9"/><circle cx="2137.6" cy="409.1" r="9.9"/>
</g>
<g fill="#29a69a" stroke="none">
<path d="M336 1426.8 L364.1 1426.8 L392.3 1426.8 L420.4 1426.8 L448.6 1426.8 L476.8 1426.8 L504.9 1426.8 L533 1426.8 L561.2 1426.8 L589.4 1426.8 L617.5 1426.8 L645.6 1426.8 L673.8 1426.8 L702 1426.8 L730.1 1426.8 L758.2 1426.8 L786.4 1426.8 L814.5 1426.8 L842.7 1426.8 L870.9 1426.8 L899 1426.8 L927.1 1426.8 L955.3 1426.8 L983.4 1426.8 L1011.6 1426.8 L1039.8 1426.8 L1067.9 1426.8 L1096 1426.8 L1124.2 1426.8 L1152.3 1426.8 L1180.5 1426.8 L1208.7 1426.8 L1236.8 1426.8 L1264.9 1426.8 L1293.1 1426.8 L1321.2 1426.8 L1349.4 1426.8 L1377.5 1426.8 L1405.7 1426.8 L1433.8 1426.8" fill="none" stroke="#29a69a" stroke-width="7.0" stroke-linejoin="round" stroke-linecap="butt"/>
<circle cx="336" cy="1426.8" r="9.9"/><circle cx="364.1" cy="1426.8" r="9.9"/><circle cx="392.3" cy="1426.8" r="9.9"/><circle cx="420.4" cy="1426.8" r="9.9"/><circle cx="448.6" cy="1426.8" r="9.9"/><circle cx="476.8" cy="1426.8" r="9.9"/><circle cx="504.9" cy="1426.8" r="9.9"/><circle cx="533" cy="1426.8" r="9.9"/><circle cx="561.2" cy="1426.8" r="9.9"/><circle cx="589.4" cy="1426.8" r="9.9"/><circle cx="617.5" cy="1426.8" r="9.9"/><circle cx="645.6" cy="1426.8" r="9.9"/><circle cx="673.8" cy="1426.8" r="9.9"/><circle cx="702" cy="1426.8" r="9.9"/><circle cx="730.1" cy="1426.8" r="9.9"/><circle cx="758.2" cy="1426.8" r="9.9"/><circle cx="786.4" cy="1426.8" r="9.9"/><circle cx="814.5" cy="1426.8" r="9.9"/><circle cx="842.7" cy="1426.8" r="9.9"/><circle cx="870.9" cy="1426.8" r="9.9"/><circle cx="899" cy="1426.8" r="9.9"/><circle cx="927.1" cy="1426.8" r="9.9"/><circle cx="955.3" cy="1426.8" r="9.9"/><circle cx="983.4" cy="1426.8" r="9.9"/><circle cx="1011.6" cy="1426.8" r="9.9"/><circle cx="1039.8" cy="1426.8" r="9.9"/><circle cx="1067.9" cy="1426.8" r="9.9"/><circle cx="1096" cy="1426.8" r="9.9"/><circle cx="1124.2" cy="1426.8" r="9.9"/><circle cx="1152.3" cy="1426.8" r="9.9"/><circle cx="1180.5" cy="1426.8" r="9.9"/><circle cx="1208.7" cy="1426.8" r="9.9"/><circle cx="1236.8" cy="1426.8" r="9.9"/><circle cx="1264.9" cy="1426.8" r="9.9"/><circle cx="1293.1" cy="1426.8" r="9.9"/><circle cx="1321.2" cy="1426.8" r="9.9"/><circle cx="1349.4" cy="1426.8" r="9.9"/><circle cx="1377.5" cy="1426.8" r="9.9"/><circle cx="1405.7" cy="1426.8" r="9.9"/><circle cx="1433.8" cy="1426.8" r="9.9"/>
</g>
<g fill="#29a69a" stroke="none">
<path d="M336 1433.3 L364.1 1433.3 L392.3 1433.3 L420.4 1433.3 L448.6 1433.3 L476.8 1433.3 L504.9 1433.3 L533 1433.3 L561.2 1433.3 L589.4 1433.3 L617.5 1433.3 L645.6 1433.3 L673.8 1433.3 L702 1433.3 L730.1 1433.3 L758.2 1433.3 L786.4 1433.3 L814.5 1433.3 L842.7 1433.3 L870.9 1433.3 L899 1433.3 L927.1 1433.3 L955.3 1433.3 L983.4 1433.3 L1011.6 1433.3 L1039.8 1433.3 L1067.9 1433.3 L1096 1433.3 L1124.2 1433.3 L1152.3 1433.3 L1180.5 1433.3 L1208.7 1433.3 L1236.8 1433.3 L1264.9 1433.3 L1293.1 1433.3 L1321.2 1433.3 L1349.4 1433.3 L1377.5 1433.3 L1405.7 1433.3 L1433.8 1433.3" fill="none" stroke="#29a69a" stroke-width="7.0" stroke-linejoin="round" stroke-linecap="butt"/>
<circle cx="336" cy="1433.3" r="9.9"/><circle cx="364.1" cy="1433.3" r="9.9"/><circle cx="392.3" cy="1433.3" r="9.9"/><circle cx="420.4" cy="1433.3" r="9.9"/><circle cx="448.6" cy="1433.3" r="9.9"/><circle cx="476.8" cy="1433.3" r="9.9"/><circle cx="504.9" cy="1433.3" r="9.9"/><circle cx="533" cy="1433.3" r="9.9"/><circle cx="561.2" cy="1433.3" r="9.9"/><circle cx="589.4" cy="1433.3" r="9.9"/><circle cx="617.5" cy="1433.3" r="9.9"/><circle cx="645.6" cy="1433.3" r="9.9"/><circle cx="673.8" cy="1433.3" r="9.9"/><circle cx="702" cy="1433.3" r="9.9"/><circle cx="730.1" cy="1433.3" r="9.9"/><circle cx="758.2" cy="1433.3" r="9.9"/><circle cx="786.4" cy="1433.3" r="9.9"/><circle cx="814.5" cy="1433.3" r="9.9"/><circle cx="842.7" cy="1433.3" r="9.9"/><circle cx="870.9" cy="1433.3" r="9.9"/><circle cx="899" cy="1433.3" r="9.9"/><circle cx="927.1" cy="1433.3" r="9.9"/><circle cx="955.3" cy="1433.3" r="9.9"/><circle cx="983.4" cy="1433.3" r="9.9"/><circle cx="1011.6" cy="1433.3" r="9.9"/><circle cx="1039.8" cy="1433.3" r="9.9"/><circle cx="1067.9" cy="1433.3" r="9.9"/><circle cx="1096" cy="1433.3" r="9.9"/><circle cx="1124.2" cy="1433.3" r="9.9"/><circle cx="1152.3" cy="1433.3" r="9.9"/><circle cx="1180.5" cy="1433.3" r="9.9"/><circle cx="1208.7" cy="1433.3" r="9.9"/><circle cx="1236.8" cy="1433.3" r="9.9"/><circle cx="1264.9" cy="1433.3" r="9.9"/><circle cx="1293.1" cy="1433.3" r="9.9"/><circle cx="1321.2" cy="1433.3" r="9.9"/><circle cx="1349.4" cy="1433.3" r="9.9"/><circle cx="1377.5" cy="1433.3" r="9.9"/><circle cx="1405.7" cy="1433.3" r="9.9"/><circle cx="1433.8" cy="1433.3" r="9.9"/>
</g>
<g fill="#29a69a" stroke="none">
<path d="M336 1405.3 L364.1 1405.3 L392.3 1405.3 L420.4 1405.3 L448.6 1405.3 L476.8 1405.3 L504.9 1405.3 L533 1405.3 L561.2 1405.3 L589.4 1405.3 L617.5 1405.3 L645.6 1405.3 L673.8 1405.3 L702 1405.3 L730.1 1405.3 L758.2 1405.3 L786.4 1405.3 L814.5 1405.3 L842.7 1405.3 L870.9 1405.3 L899 1405.3 L927.1 1405.3 L955.3 1405.3 L983.4 1405.3 L1011.6 1405.3 L1039.8 1405.3 L1067.9 1405.3 L1096 1405.3 L1124.2 1405.3 L1152.3 1405.3 L1180.5 1405.3 L1208.7 1405.3 L1236.8 1405.3 L1264.9 1405.3 L1293.1 1405.3 L1321.2 1405.3 L1349.4 1405.3 L1377.5 1405.3 L1405.7 1405.3 L1433.8 1405.3" fill="none" stroke="#29a69a" stroke-width="7.0" stroke-linejoin="round" stroke-linecap="butt"/>
<circle cx="336" cy="1405.3" r="9.9"/><circle cx="364.1" cy="1405.3" r="9.9"/><circle cx="392.3" cy="1405.3" r="9.9"/><circle cx="420.4" cy="1405.3" r="9.9"/><circle cx="448.6" cy="1405.3" r="9.9"/><circle cx="476.8" cy="1405.3" r="9.9"/><circle cx="504.9" cy="1405.3" r="9.9"/><circle cx="533" cy="1405.3" r="9.9"/><circle cx="561.2" cy="1405.3" r="9.9"/><circle cx="589.4" cy="1405.3" r="9.9"/><circle cx="617.5" cy="1405.3" r="9.9"/><circle cx="645.6" cy="1405.3" r="9.9"/><circle cx="673.8" cy="1405.3" r="9.9"/><circle cx="702" cy="1405.3" r="9.9"/><circle cx="730.1" cy="1405.3" r="9.9"/><circle cx="758.2" cy="1405.3" r="9.9"/><circle cx="786.4" cy="1405.3" r="9.9"/><circle cx="814.5" cy="1405.3" r="9.9"/><circle cx="842.7" cy="1405.3" r="9.9"/><circle cx="870.9" cy="1405.3" r="9.9"/><circle cx="899" cy="1405.3" r="9.9"/><circle cx="927.1" cy="1405.3" r="9.9"/><circle cx="955.3" cy="1405.3" r="9.9"/><circle cx="983.4" cy="1405.3" r="9.9"/><circle cx="1011.6" cy="1405.3" r="9.9"/><circle cx="1039.8" cy="1405.3" r="9.9"/><circle cx="1067.9" cy="1405.3" r="9.9"/><circle cx="1096" cy="1405.3" r="9.9"/><circle cx="1124.2" cy="1405.3" r="9.9"/><circle cx="1152.3" cy="1405.3" r="9.9"/><circle cx="1180.5" cy="1405.3" r="9.9"/><circle cx="1208.7" cy="1405.3" r="9.9"/><circle cx="1236.8" cy="1405.3" r="9.9"/><circle cx="1264.9" cy="1405.3" r="9.9"/><circle cx="1293.1" cy="1405.3" r="9.9"/><circle cx="1321.2" cy="1405.3" r="9.9"/><circle cx="1349.4" cy="1405.3" r="9.9"/><circle cx="1377.5" cy="1405.3" r="9.9"/><circle cx="1405.7" cy="1405.3" r="9.9"/><circle cx="1433.8" cy="1405.3" r="9.9"/>
</g>
<g fill="#29a69a" stroke="none">
<path d="M336 1409.7 L364.1 1409.7 L392.3 1409.7 L420.4 1409.7 L448.6 1409.7 L476.8 1409.7 L504.9 1409.7 L533 1409.7 L561.2 1409.7 L589.4 1409.7 L617.5 1409.7 L645.6 1409.7 L673.8 1409.7 L702 1409.7 L730.1 1409.7 L758.2 1409.7 L786.4 1409.7 L814.5 1409.7 L842.7 1409.7 L870.9 1409.7 L899 1409.7 L927.1 1409.7 L955.3 1409.7 L983.4 1409.7 L1011.6 1409.7 L1039.8 1409.7 L1067.9 1409.7 L1096 1409.7 L1124.2 1409.7 L1152.3 1409.7 L1180.5 1409.7 L1208.7 1409.7 L1236.8 1409.7 L1264.9 1409.7 L1293.1 1409.7 L1321.2 1409.7 L1349.4 1409.7 L1377.5 1409.7 L1405.7 1409.7 L1433.8 1409.7" fill="none" stroke="#29a69a" stroke-width="7.0" stroke-linejoin="round" stroke-linecap="butt"/>
<circle cx="336" cy="1409.7" r="9.9"/><circle cx="364.1" cy="1409.7" r="9.9"/><circle cx="392.3" cy="1409.7" r="9.9"/><circle cx="420.4" cy="1409.7" r="9.9"/><circle cx="448.6" cy="1409.7" r="9.9"/><circle cx="476.8" cy="1409.7" r="9.9"/><circle cx="504.9" cy="1409.7" r="9.9"/><circle cx="533" cy="1409.7" r="9.9"/><circle cx="561.2" cy="1409.7" r="9.9"/><circle cx="589.4" cy="1409.7" r="9.9"/><circle cx="617.5" cy="1409.7" r="9.9"/><circle cx="645.6" cy="1409.7" r="9.9"/><circle cx="673.8" cy="1409.7" r="9.9"/><circle cx="702" cy="1409.7" r="9.9"/><circle cx="730.1" cy="1409.7" r="9.9"/><circle cx="758.2" cy="1409.7" r="9.9"/><circle cx="786.4" cy="1409.7" r="9.9"/><circle cx="814.5" cy="1409.7" r="9.9"/><circle cx="842.7" cy="1409.7" r="9.9"/><circle cx="870.9" cy="1409.7" r="9.9"/><circle cx="899" cy="1409.7" r="9.9"/><circle cx="927.1" cy="1409.7" r="9.9"/><circle cx="955.3" cy="1409.7" r="9.9"/><circle cx="983.4" cy="1409.7" r="9.9"/><circle cx="1011.6" cy="1409.7" r="9.9"/><circle cx="1039.8" cy="1409.7" r="9.9"/><circle cx="1067.9" cy="1409.7" r="9.9"/><circle cx="1096" cy="1409.7" r="9.9"/><circle cx="1124.2" cy="1409.7" r="9.9"/><circle cx="1152.3" cy="1409.7" r="9.9"/><circle cx="1180.5" cy="1409.7" r="9.9"/><circle cx="1208.7" cy="1409.7" r="9.9"/><circle cx="1236.8" cy="1409.7" r="9.9"/><circle cx="1264.9" cy="1409.7" r="9.9"/><circle cx="1293.1" cy="1409.7" r="9.9"/><circle cx="1321.2" cy="1409.7" r="9.9"/><circle cx="1349.4" cy="1409.7" r="9.9"/><circle cx="1377.5" cy="1409.7" r="9.9"/><circle cx="1405.7" cy="1409.7" r="9.9"/><circle cx="1433.8" cy="1409.7" r="9.9"/>
</g>
</g>
<rect x="336.2" y="133.4" width="2019.3" height="1628.6" fill="none" stroke="#000" stroke-width="11.6" stroke-linejoin="miter"/>
<g fill="#000"><rect x="330.4" y="1762" width="11.6" height="31"/><rect x="330.4" y="133.4" width="11.6" height="32.5"/><rect x="442.6" y="1762" width="11.6" height="15.5"/><rect x="442.6" y="133.4" width="11.6" height="16"/><rect x="554.8" y="1762" width="11.6" height="31"/><rect x="554.8" y="133.4" width="11.6" height="32.5"/><rect x="666.9" y="1762" width="11.6" height="15.5"/><rect x="666.9" y="133.4" width="11.6" height="16"/><rect x="779.1" y="1762" width="11.6" height="31"/><rect x="779.1" y="133.4" width="11.6" height="32.5"/><rect x="891.3" y="1762" width="11.6" height="15.5"/><rect x="891.3" y="133.4" width="11.6" height="16"/><rect x="1003.5" y="1762" width="11.6" height="31"/><rect x="1003.5" y="133.4" width="11.6" height="32.5"/><rect x="1115.7" y="1762" width="11.6" height="15.5"/><rect x="1115.7" y="133.4" width="11.6" height="16"/><rect x="1227.8" y="1762" width="11.6" height="31"/><rect x="1227.8" y="133.4" width="11.6" height="32.5"/><rect x="1340" y="1762" width="11.6" height="15.5"/><rect x="1340" y="133.4" width="11.6" height="16"/><rect x="1452.2" y="1762" width="11.6" height="31"/><rect x="1452.2" y="133.4" width="11.6" height="32.5"/><rect x="1564.4" y="1762" width="11.6" height="15.5"/><rect x="1564.4" y="133.4" width="11.6" height="16"/><rect x="1676.6" y="1762" width="11.6" height="31"/><rect x="1676.6" y="133.4" width="11.6" height="32.5"/><rect x="1788.7" y="1762" width="11.6" height="15.5"/><rect x="1788.7" y="133.4" width="11.6" height="16"/><rect x="1900.9" y="1762" width="11.6" height="31"/><rect x="1900.9" y="133.4" width="11.6" height="32.5"/><rect x="2013.1" y="1762" width="11.6" height="15.5"/><rect x="2013.1" y="133.4" width="11.6" height="16"/><rect x="2125.3" y="1762" width="11.6" height="31"/><rect x="2125.3" y="133.4" width="11.6" height="32.5"/><rect x="2237.5" y="1762" width="11.6" height="15.5"/><rect x="2237.5" y="133.4" width="11.6" height="16"/><rect x="2349.6" y="1762" width="11.6" height="31"/><rect x="2349.6" y="133.4" width="11.6" height="32.5"/><rect x="304.5" y="1756.4" width="31.7" height="11.2"/><rect x="2323.5" y="1756.4" width="32" height="11.2"/><rect x="304.5" y="1485" width="31.7" height="11.2"/><rect x="2323.5" y="1485" width="32" height="11.2"/><rect x="304.5" y="1213.5" width="31.7" height="11.2"/><rect x="2323.5" y="1213.5" width="32" height="11.2"/><rect x="304.5" y="942.1" width="31.7" height="11.2"/><rect x="2323.5" y="942.1" width="32" height="11.2"/><rect x="304.5" y="670.6" width="31.7" height="11.2"/><rect x="2323.5" y="670.6" width="32" height="11.2"/><rect x="304.5" y="399.1" width="31.7" height="11.2"/><rect x="2323.5" y="399.1" width="32" height="11.2"/><rect x="304.5" y="127.7" width="31.7" height="11.2"/><rect x="2323.5" y="127.7" width="32" height="11.2"/></g>
<g class="tick"><text transform="translate(337 1874.6) scale(0.952 1)" text-anchor="middle">0</text>
<text transform="translate(561.4 1874.6) scale(0.952 1)" text-anchor="middle">2</text>
<text transform="translate(785.7 1874.6) scale(0.952 1)" text-anchor="middle">4</text>
<text transform="translate(1010.1 1874.6) scale(0.952 1)" text-anchor="middle">6</text>
<text transform="translate(1234.4 1874.6) scale(0.952 1)" text-anchor="middle">8</text>
<text transform="translate(1458.8 1874.6) scale(0.952 1)" text-anchor="middle">10</text>
<text transform="translate(1683.2 1874.6) scale(0.952 1)" text-anchor="middle">12</text>
<text transform="translate(1907.5 1874.6) scale(0.952 1)" text-anchor="middle">14</text>
<text transform="translate(2131.9 1874.6) scale(0.952 1)" text-anchor="middle">16</text>
<text transform="translate(2356.2 1874.6) scale(0.952 1)" text-anchor="middle">18</text>
<text transform="translate(282.2 1784.2) scale(0.952 1)" text-anchor="end">0</text>
<text transform="translate(282.2 1512.8) scale(0.952 1)" text-anchor="end">100</text>
<text transform="translate(282.2 1241.3) scale(0.952 1)" text-anchor="end">200</text>
<text transform="translate(282.2 969.9) scale(0.952 1)" text-anchor="end">300</text>
<text transform="translate(282.2 698.4) scale(0.952 1)" text-anchor="end">400</text>
<text transform="translate(282.2 426.9) scale(0.952 1)" text-anchor="end">500</text>
<text transform="translate(282.2 155.5) scale(0.952 1)" text-anchor="end">600</text></g>
<line x1="636.5" y1="1618.5" x2="825.5" y2="1618.5" stroke="#144472" stroke-width="7.0" stroke-linecap="round"/>
<g fill="#144472"><rect x="722.2" y="1609" width="19" height="19"/></g>
<text transform="translate(846.2 1646.8) scale(0.964 1)" class="leg">30µm</text>
<line x1="1129.5" y1="1618.5" x2="1319.4" y2="1618.5" stroke="#29a69a" stroke-width="7.0" stroke-linecap="round"/>
<g fill="#29a69a"><circle cx="1223.6" cy="1618.5" r="9.9"/></g>
<text transform="translate(1339.5 1646.8) scale(0.964 1)" class="leg">40µm</text>
<line x1="1644.2" y1="1618.5" x2="1833.0" y2="1618.5" stroke="#7e1650" stroke-width="7.0" stroke-linecap="round"/>
<g fill="#7e1650"><path d="M1738.5 1603.5 L1751.3 1626 L1725.7 1626 Z"/></g>
<text transform="translate(1853.7 1646.8) scale(0.964 1)" class="leg">50µm</text>
<text x="915.3" y="84.9" font-size="92.2">0.3 µm Parylene F-VT4</text>
<text x="802.5" y="1973.7" font-size="96">Soaking time at 60°C (days)</text>
<text transform="translate(108 1261) rotate(-90)" font-size="96.5">Resistance (Ω)</text>
</svg>
</body></html>
